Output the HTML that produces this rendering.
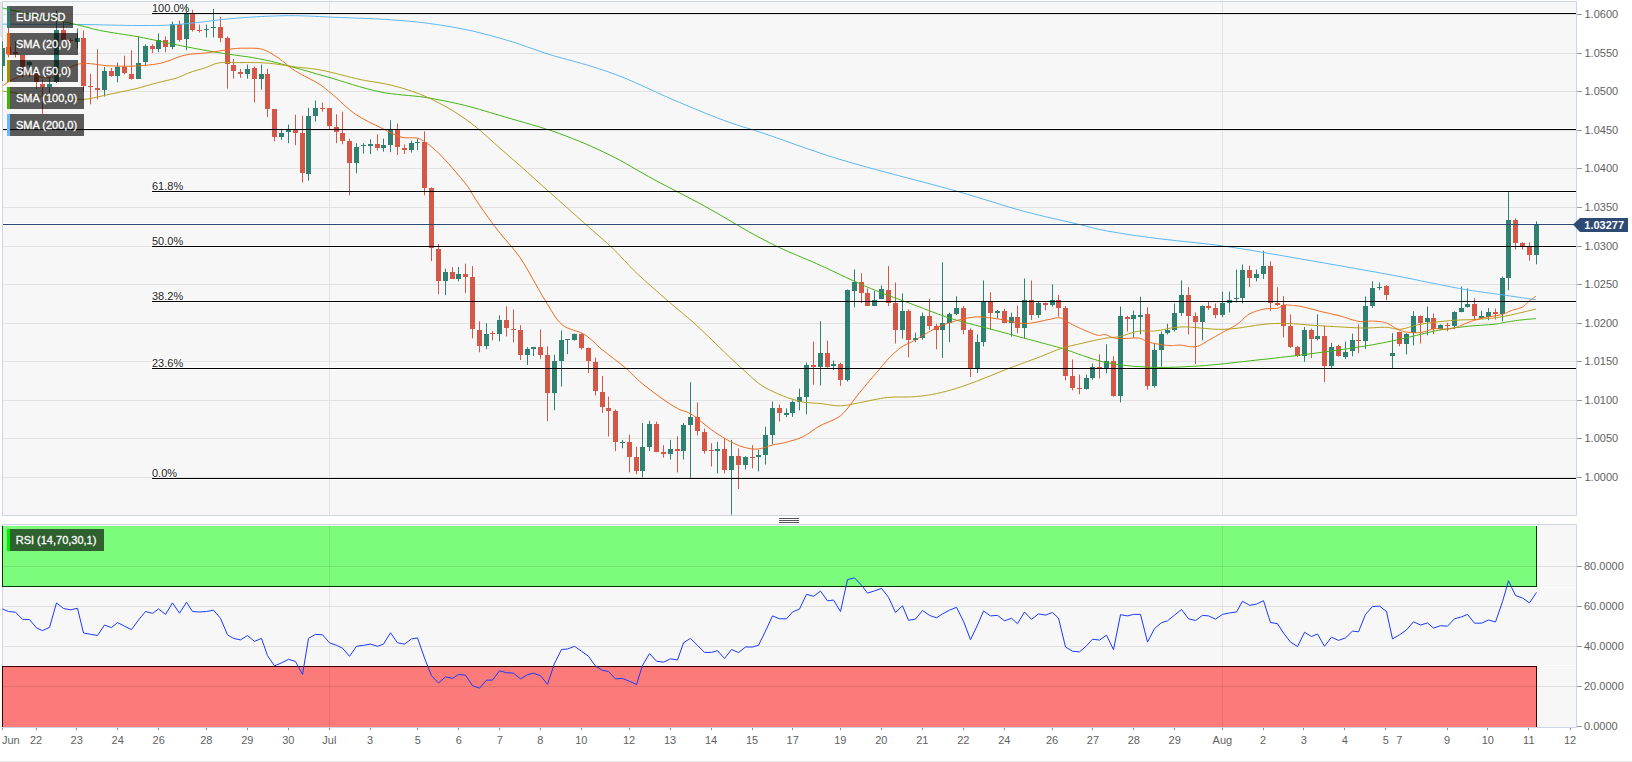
<!DOCTYPE html><html><head><meta charset="utf-8"><style>html,body{margin:0;padding:0;background:#fff;width:1632px;height:762px;overflow:hidden}svg{display:block}text{font-family:"Liberation Sans",sans-serif}</style></head><body>
<svg width="1632" height="762" viewBox="0 0 1632 762">
<defs><clipPath id="mc"><rect x="2" y="2" width="1574" height="513"/></clipPath><clipPath id="rc"><rect x="2" y="525" width="1574" height="202"/></clipPath></defs>
<rect x="2.5" y="1.5" width="1574" height="514" fill="#f7f7f7" stroke="#cdd4e6" stroke-width="1"/>
<rect x="0" y="2" width="2" height="35" fill="#e6e6e6"/>
<g clip-path="url(#mc)">
<rect x="3" y="128" width="1573" height="3" fill="#fff"/>
<rect x="3" y="223" width="1573" height="3" fill="#fff"/>
<rect x="152" y="12" width="1424" height="3" fill="#fff"/>
<rect x="152" y="190" width="1424" height="3" fill="#fff"/>
<rect x="152" y="245" width="1424" height="3" fill="#fff"/>
<rect x="152" y="300" width="1424" height="3" fill="#fff"/>
<rect x="152" y="367" width="1424" height="3" fill="#fff"/>
<rect x="152" y="477" width="1424" height="3" fill="#fff"/>
<line x1="3" y1="14.5" x2="1576" y2="14.5" stroke="#e2e2e2" stroke-width="1"/>
<line x1="3" y1="53.5" x2="1576" y2="53.5" stroke="#e2e2e2" stroke-width="1"/>
<line x1="3" y1="91.5" x2="1576" y2="91.5" stroke="#e2e2e2" stroke-width="1"/>
<line x1="3" y1="130.5" x2="1576" y2="130.5" stroke="#e2e2e2" stroke-width="1"/>
<line x1="3" y1="168.5" x2="1576" y2="168.5" stroke="#e2e2e2" stroke-width="1"/>
<line x1="3" y1="207.5" x2="1576" y2="207.5" stroke="#e2e2e2" stroke-width="1"/>
<line x1="3" y1="246.5" x2="1576" y2="246.5" stroke="#e2e2e2" stroke-width="1"/>
<line x1="3" y1="284.5" x2="1576" y2="284.5" stroke="#e2e2e2" stroke-width="1"/>
<line x1="3" y1="323.5" x2="1576" y2="323.5" stroke="#e2e2e2" stroke-width="1"/>
<line x1="3" y1="361.5" x2="1576" y2="361.5" stroke="#e2e2e2" stroke-width="1"/>
<line x1="3" y1="400.5" x2="1576" y2="400.5" stroke="#e2e2e2" stroke-width="1"/>
<line x1="3" y1="438.5" x2="1576" y2="438.5" stroke="#e2e2e2" stroke-width="1"/>
<line x1="3" y1="477.5" x2="1576" y2="477.5" stroke="#e2e2e2" stroke-width="1"/>
<line x1="329.5" y1="2" x2="329.5" y2="515" stroke="#e2e2e2" stroke-width="1"/>
<line x1="1222.5" y1="2" x2="1222.5" y2="515" stroke="#e2e2e2" stroke-width="1"/>
<text x="152" y="12" font-size="11" fill="#222" stroke="#fff" stroke-width="2" paint-order="stroke" stroke-linejoin="round">100.0%</text>
<text x="152" y="190" font-size="11" fill="#222" stroke="#fff" stroke-width="2" paint-order="stroke" stroke-linejoin="round">61.8%</text>
<text x="152" y="245" font-size="11" fill="#222" stroke="#fff" stroke-width="2" paint-order="stroke" stroke-linejoin="round">50.0%</text>
<text x="152" y="300" font-size="11" fill="#222" stroke="#fff" stroke-width="2" paint-order="stroke" stroke-linejoin="round">38.2%</text>
<text x="152" y="367" font-size="11" fill="#222" stroke="#fff" stroke-width="2" paint-order="stroke" stroke-linejoin="round">23.6%</text>
<text x="152" y="477" font-size="11" fill="#222" stroke="#fff" stroke-width="2" paint-order="stroke" stroke-linejoin="round">0.0%</text>
</g>
<line x1="1577" y1="14.5" x2="1582" y2="14.5" stroke="#9a9a9a" stroke-width="1"/>
<text x="1584.5" y="18.0" font-size="11" fill="#5f5f5f">1.0600</text>
<line x1="1577" y1="53.5" x2="1582" y2="53.5" stroke="#9a9a9a" stroke-width="1"/>
<text x="1584.5" y="57.0" font-size="11" fill="#5f5f5f">1.0550</text>
<line x1="1577" y1="91.5" x2="1582" y2="91.5" stroke="#9a9a9a" stroke-width="1"/>
<text x="1584.5" y="95.0" font-size="11" fill="#5f5f5f">1.0500</text>
<line x1="1577" y1="130.5" x2="1582" y2="130.5" stroke="#9a9a9a" stroke-width="1"/>
<text x="1584.5" y="134.0" font-size="11" fill="#5f5f5f">1.0450</text>
<line x1="1577" y1="168.5" x2="1582" y2="168.5" stroke="#9a9a9a" stroke-width="1"/>
<text x="1584.5" y="172.0" font-size="11" fill="#5f5f5f">1.0400</text>
<line x1="1577" y1="207.5" x2="1582" y2="207.5" stroke="#9a9a9a" stroke-width="1"/>
<text x="1584.5" y="211.0" font-size="11" fill="#5f5f5f">1.0350</text>
<line x1="1577" y1="246.5" x2="1582" y2="246.5" stroke="#9a9a9a" stroke-width="1"/>
<text x="1584.5" y="250.0" font-size="11" fill="#5f5f5f">1.0300</text>
<line x1="1577" y1="284.5" x2="1582" y2="284.5" stroke="#9a9a9a" stroke-width="1"/>
<text x="1584.5" y="288.0" font-size="11" fill="#5f5f5f">1.0250</text>
<line x1="1577" y1="323.5" x2="1582" y2="323.5" stroke="#9a9a9a" stroke-width="1"/>
<text x="1584.5" y="327.0" font-size="11" fill="#5f5f5f">1.0200</text>
<line x1="1577" y1="361.5" x2="1582" y2="361.5" stroke="#9a9a9a" stroke-width="1"/>
<text x="1584.5" y="365.0" font-size="11" fill="#5f5f5f">1.0150</text>
<line x1="1577" y1="400.5" x2="1582" y2="400.5" stroke="#9a9a9a" stroke-width="1"/>
<text x="1584.5" y="404.0" font-size="11" fill="#5f5f5f">1.0100</text>
<line x1="1577" y1="438.5" x2="1582" y2="438.5" stroke="#9a9a9a" stroke-width="1"/>
<text x="1584.5" y="442.0" font-size="11" fill="#5f5f5f">1.0050</text>
<line x1="1577" y1="477.5" x2="1582" y2="477.5" stroke="#9a9a9a" stroke-width="1"/>
<text x="1584.5" y="481.0" font-size="11" fill="#5f5f5f">1.0000</text>
<g clip-path="url(#mc)">
<rect x="2" y="41.6" width="1" height="39.4" fill="#2f8070"/>
<rect x="0" y="48" width="5" height="18" fill="#2f8070"/>
<rect x="8" y="28.0" width="1" height="29.4" fill="#d45848"/>
<rect x="6" y="47" width="5" height="7" fill="#d45848"/>
<rect x="15" y="41.0" width="1" height="16.5" fill="#d45848"/>
<rect x="13" y="52" width="5" height="2" fill="#d45848"/>
<rect x="22" y="55.0" width="1" height="22.5" fill="#d45848"/>
<rect x="20" y="55" width="5" height="12" fill="#d45848"/>
<rect x="29" y="61.0" width="1" height="16.0" fill="#2f8070"/>
<rect x="27" y="62" width="5" height="3" fill="#2f8070"/>
<rect x="36" y="70.0" width="1" height="19.0" fill="#d45848"/>
<rect x="34" y="74" width="5" height="8" fill="#d45848"/>
<rect x="42" y="79.7" width="1" height="34.3" fill="#d45848"/>
<rect x="40" y="84" width="5" height="3" fill="#d45848"/>
<rect x="49" y="77.8" width="1" height="15.7" fill="#2f8070"/>
<rect x="47" y="84" width="5" height="3" fill="#2f8070"/>
<rect x="56" y="10.6" width="1" height="72.4" fill="#2f8070"/>
<rect x="54" y="30" width="5" height="52" fill="#2f8070"/>
<rect x="63" y="22.0" width="1" height="20.0" fill="#d45848"/>
<rect x="61" y="30" width="5" height="10" fill="#d45848"/>
<rect x="70" y="38.0" width="1" height="5.0" fill="#d45848"/>
<rect x="68" y="40" width="5" height="1" fill="#d45848"/>
<rect x="77" y="28.5" width="1" height="20.0" fill="#2f8070"/>
<rect x="75" y="38" width="5" height="4" fill="#2f8070"/>
<rect x="83" y="30.5" width="1" height="61.0" fill="#d45848"/>
<rect x="81" y="38" width="5" height="48" fill="#d45848"/>
<rect x="90" y="73.8" width="1" height="30.5" fill="#d45848"/>
<rect x="88" y="86" width="5" height="1" fill="#d45848"/>
<rect x="97" y="49.2" width="1" height="50.2" fill="#d45848"/>
<rect x="95" y="88" width="5" height="2" fill="#d45848"/>
<rect x="104" y="66.9" width="1" height="29.6" fill="#2f8070"/>
<rect x="102" y="71" width="5" height="19" fill="#2f8070"/>
<rect x="111" y="68.0" width="1" height="8.8" fill="#d45848"/>
<rect x="109" y="71" width="5" height="5" fill="#d45848"/>
<rect x="117" y="62.6" width="1" height="19.7" fill="#2f8070"/>
<rect x="115" y="67" width="5" height="9" fill="#2f8070"/>
<rect x="124" y="55.7" width="1" height="18.7" fill="#d45848"/>
<rect x="122" y="67" width="5" height="6" fill="#d45848"/>
<rect x="131" y="50.2" width="1" height="29.5" fill="#d45848"/>
<rect x="129" y="74" width="5" height="5" fill="#d45848"/>
<rect x="138" y="36.4" width="1" height="42.3" fill="#2f8070"/>
<rect x="136" y="63" width="5" height="16" fill="#2f8070"/>
<rect x="145" y="44.3" width="1" height="20.7" fill="#2f8070"/>
<rect x="143" y="46" width="5" height="16" fill="#2f8070"/>
<rect x="152" y="44.3" width="1" height="8.8" fill="#d45848"/>
<rect x="150" y="46" width="5" height="3" fill="#d45848"/>
<rect x="158" y="33.5" width="1" height="18.7" fill="#2f8070"/>
<rect x="156" y="40" width="5" height="9" fill="#2f8070"/>
<rect x="165" y="36.4" width="1" height="15.8" fill="#d45848"/>
<rect x="163" y="40" width="5" height="7" fill="#d45848"/>
<rect x="172" y="21.7" width="1" height="27.5" fill="#2f8070"/>
<rect x="170" y="24" width="5" height="23" fill="#2f8070"/>
<rect x="179" y="20.7" width="1" height="21.0" fill="#d45848"/>
<rect x="177" y="24" width="5" height="16" fill="#d45848"/>
<rect x="186" y="3.9" width="1" height="46.3" fill="#2f8070"/>
<rect x="184" y="13" width="5" height="26" fill="#2f8070"/>
<rect x="192" y="9.8" width="1" height="21.7" fill="#d45848"/>
<rect x="190" y="13" width="5" height="17" fill="#d45848"/>
<rect x="199" y="24.6" width="1" height="7.9" fill="#d45848"/>
<rect x="197" y="30" width="5" height="1" fill="#d45848"/>
<rect x="206" y="24.6" width="1" height="12.8" fill="#2f8070"/>
<rect x="204" y="29" width="5" height="1" fill="#2f8070"/>
<rect x="213" y="8.9" width="1" height="28.5" fill="#2f8070"/>
<rect x="211" y="27" width="5" height="1" fill="#2f8070"/>
<rect x="220" y="16.7" width="1" height="25.6" fill="#d45848"/>
<rect x="218" y="27" width="5" height="11" fill="#d45848"/>
<rect x="227" y="36.4" width="1" height="52.2" fill="#d45848"/>
<rect x="225" y="38" width="5" height="26" fill="#d45848"/>
<rect x="233" y="59.0" width="1" height="19.7" fill="#d45848"/>
<rect x="231" y="65" width="5" height="6" fill="#d45848"/>
<rect x="240" y="68.9" width="1" height="8.9" fill="#d45848"/>
<rect x="238" y="72" width="5" height="2" fill="#d45848"/>
<rect x="247" y="64.6" width="1" height="14.1" fill="#2f8070"/>
<rect x="245" y="69" width="5" height="5" fill="#2f8070"/>
<rect x="254" y="66.5" width="1" height="35.9" fill="#d45848"/>
<rect x="252" y="68" width="5" height="11" fill="#d45848"/>
<rect x="261" y="64.6" width="1" height="25.0" fill="#2f8070"/>
<rect x="259" y="74" width="5" height="5" fill="#2f8070"/>
<rect x="267" y="68.9" width="1" height="48.2" fill="#d45848"/>
<rect x="265" y="74" width="5" height="35" fill="#d45848"/>
<rect x="274" y="109.3" width="1" height="32.0" fill="#d45848"/>
<rect x="272" y="109" width="5" height="28" fill="#d45848"/>
<rect x="281" y="130.0" width="1" height="9.8" fill="#2f8070"/>
<rect x="279" y="133" width="5" height="4" fill="#2f8070"/>
<rect x="288" y="124.5" width="1" height="18.7" fill="#2f8070"/>
<rect x="286" y="129" width="5" height="3" fill="#2f8070"/>
<rect x="295" y="114.7" width="1" height="30.5" fill="#d45848"/>
<rect x="293" y="130" width="5" height="3" fill="#d45848"/>
<rect x="302" y="115.7" width="1" height="66.9" fill="#d45848"/>
<rect x="300" y="133" width="5" height="40" fill="#d45848"/>
<rect x="308" y="107.8" width="1" height="72.8" fill="#2f8070"/>
<rect x="306" y="116" width="5" height="58" fill="#2f8070"/>
<rect x="315" y="100.5" width="1" height="21.1" fill="#2f8070"/>
<rect x="313" y="108" width="5" height="8" fill="#2f8070"/>
<rect x="322" y="102.5" width="1" height="9.2" fill="#d45848"/>
<rect x="320" y="108" width="5" height="1" fill="#d45848"/>
<rect x="329" y="107.8" width="1" height="21.6" fill="#d45848"/>
<rect x="327" y="108" width="5" height="18" fill="#d45848"/>
<rect x="336" y="114.3" width="1" height="28.9" fill="#d45848"/>
<rect x="334" y="127" width="5" height="5" fill="#d45848"/>
<rect x="342" y="111.7" width="1" height="32.5" fill="#d45848"/>
<rect x="340" y="133" width="5" height="8" fill="#d45848"/>
<rect x="349" y="138.7" width="1" height="56.7" fill="#d45848"/>
<rect x="347" y="141" width="5" height="22" fill="#d45848"/>
<rect x="356" y="143.2" width="1" height="30.1" fill="#2f8070"/>
<rect x="354" y="147" width="5" height="16" fill="#2f8070"/>
<rect x="363" y="143.2" width="1" height="10.5" fill="#2f8070"/>
<rect x="361" y="145" width="5" height="1" fill="#2f8070"/>
<rect x="370" y="139.3" width="1" height="14.8" fill="#2f8070"/>
<rect x="368" y="144" width="5" height="2" fill="#2f8070"/>
<rect x="377" y="134.4" width="1" height="16.1" fill="#d45848"/>
<rect x="375" y="144" width="5" height="4" fill="#d45848"/>
<rect x="383" y="138.7" width="1" height="13.0" fill="#2f8070"/>
<rect x="381" y="145" width="5" height="3" fill="#2f8070"/>
<rect x="390" y="120.2" width="1" height="31.9" fill="#2f8070"/>
<rect x="388" y="129" width="5" height="16" fill="#2f8070"/>
<rect x="397" y="123.5" width="1" height="31.5" fill="#d45848"/>
<rect x="395" y="129" width="5" height="18" fill="#d45848"/>
<rect x="404" y="144.6" width="1" height="9.4" fill="#d45848"/>
<rect x="402" y="148" width="5" height="2" fill="#d45848"/>
<rect x="411" y="140.7" width="1" height="11.8" fill="#2f8070"/>
<rect x="409" y="143" width="5" height="7" fill="#2f8070"/>
<rect x="417" y="138.7" width="1" height="11.4" fill="#2f8070"/>
<rect x="415" y="142" width="5" height="1" fill="#2f8070"/>
<rect x="424" y="131.4" width="1" height="64.0" fill="#d45848"/>
<rect x="422" y="142" width="5" height="46" fill="#d45848"/>
<rect x="431" y="187.5" width="1" height="73.6" fill="#d45848"/>
<rect x="429" y="188" width="5" height="60" fill="#d45848"/>
<rect x="438" y="244.0" width="1" height="50.2" fill="#d45848"/>
<rect x="436" y="249" width="5" height="32" fill="#d45848"/>
<rect x="445" y="268.6" width="1" height="26.6" fill="#2f8070"/>
<rect x="443" y="272" width="5" height="9" fill="#2f8070"/>
<rect x="452" y="267.0" width="1" height="11.8" fill="#d45848"/>
<rect x="450" y="272" width="5" height="7" fill="#d45848"/>
<rect x="458" y="267.0" width="1" height="14.4" fill="#2f8070"/>
<rect x="456" y="274" width="5" height="5" fill="#2f8070"/>
<rect x="465" y="263.7" width="1" height="29.5" fill="#d45848"/>
<rect x="463" y="274" width="5" height="3" fill="#d45848"/>
<rect x="472" y="266.0" width="1" height="72.4" fill="#d45848"/>
<rect x="470" y="277" width="5" height="52" fill="#d45848"/>
<rect x="479" y="321.3" width="1" height="30.9" fill="#d45848"/>
<rect x="477" y="330" width="5" height="16" fill="#d45848"/>
<rect x="486" y="323.2" width="1" height="26.0" fill="#2f8070"/>
<rect x="484" y="334" width="5" height="12" fill="#2f8070"/>
<rect x="492" y="331.1" width="1" height="9.3" fill="#d45848"/>
<rect x="490" y="333" width="5" height="1" fill="#d45848"/>
<rect x="499" y="315.4" width="1" height="25.9" fill="#2f8070"/>
<rect x="497" y="320" width="5" height="14" fill="#2f8070"/>
<rect x="506" y="306.3" width="1" height="30.1" fill="#d45848"/>
<rect x="504" y="320" width="5" height="8" fill="#d45848"/>
<rect x="513" y="309.4" width="1" height="32.9" fill="#d45848"/>
<rect x="511" y="329" width="5" height="1" fill="#d45848"/>
<rect x="520" y="325.2" width="1" height="34.8" fill="#d45848"/>
<rect x="518" y="330" width="5" height="25" fill="#d45848"/>
<rect x="527" y="347.2" width="1" height="17.8" fill="#2f8070"/>
<rect x="525" y="349" width="5" height="6" fill="#2f8070"/>
<rect x="533" y="346.9" width="1" height="9.2" fill="#2f8070"/>
<rect x="531" y="347" width="5" height="2" fill="#2f8070"/>
<rect x="540" y="329.5" width="1" height="29.2" fill="#d45848"/>
<rect x="538" y="347" width="5" height="8" fill="#d45848"/>
<rect x="547" y="346.3" width="1" height="74.8" fill="#d45848"/>
<rect x="545" y="355" width="5" height="38" fill="#d45848"/>
<rect x="554" y="354.7" width="1" height="55.5" fill="#2f8070"/>
<rect x="552" y="361" width="5" height="32" fill="#2f8070"/>
<rect x="561" y="330.5" width="1" height="56.1" fill="#2f8070"/>
<rect x="559" y="340" width="5" height="21" fill="#2f8070"/>
<rect x="567" y="339.0" width="1" height="15.1" fill="#2f8070"/>
<rect x="565" y="339" width="5" height="1" fill="#2f8070"/>
<rect x="574" y="333.5" width="1" height="7.0" fill="#2f8070"/>
<rect x="572" y="334" width="5" height="6" fill="#2f8070"/>
<rect x="581" y="333.5" width="1" height="16.1" fill="#d45848"/>
<rect x="579" y="334" width="5" height="14" fill="#d45848"/>
<rect x="588" y="347.6" width="1" height="25.6" fill="#d45848"/>
<rect x="586" y="348" width="5" height="13" fill="#d45848"/>
<rect x="595" y="357.5" width="1" height="38.0" fill="#d45848"/>
<rect x="593" y="362" width="5" height="29" fill="#d45848"/>
<rect x="602" y="375.9" width="1" height="37.0" fill="#d45848"/>
<rect x="600" y="392" width="5" height="15" fill="#d45848"/>
<rect x="608" y="396.6" width="1" height="39.9" fill="#d45848"/>
<rect x="606" y="408" width="5" height="3" fill="#d45848"/>
<rect x="615" y="409.4" width="1" height="41.7" fill="#d45848"/>
<rect x="613" y="411" width="5" height="31" fill="#d45848"/>
<rect x="622" y="439.9" width="1" height="8.4" fill="#2f8070"/>
<rect x="620" y="442" width="5" height="1" fill="#2f8070"/>
<rect x="629" y="434.6" width="1" height="37.8" fill="#d45848"/>
<rect x="627" y="442" width="5" height="15" fill="#d45848"/>
<rect x="636" y="446.8" width="1" height="27.5" fill="#d45848"/>
<rect x="634" y="457" width="5" height="14" fill="#d45848"/>
<rect x="642" y="423.1" width="1" height="54.2" fill="#2f8070"/>
<rect x="640" y="447" width="5" height="24" fill="#2f8070"/>
<rect x="649" y="420.8" width="1" height="30.3" fill="#2f8070"/>
<rect x="647" y="424" width="5" height="23" fill="#2f8070"/>
<rect x="656" y="421.6" width="1" height="30.7" fill="#d45848"/>
<rect x="654" y="424" width="5" height="28" fill="#d45848"/>
<rect x="663" y="445.2" width="1" height="12.4" fill="#d45848"/>
<rect x="661" y="452" width="5" height="2" fill="#d45848"/>
<rect x="670" y="439.9" width="1" height="19.7" fill="#2f8070"/>
<rect x="668" y="449" width="5" height="5" fill="#2f8070"/>
<rect x="677" y="436.5" width="1" height="35.9" fill="#d45848"/>
<rect x="675" y="449" width="5" height="2" fill="#d45848"/>
<rect x="683" y="423.1" width="1" height="36.5" fill="#2f8070"/>
<rect x="681" y="425" width="5" height="26" fill="#2f8070"/>
<rect x="690" y="382.2" width="1" height="95.7" fill="#2f8070"/>
<rect x="688" y="417" width="5" height="8" fill="#2f8070"/>
<rect x="697" y="402.5" width="1" height="32.9" fill="#d45848"/>
<rect x="695" y="417" width="5" height="14" fill="#d45848"/>
<rect x="704" y="428.7" width="1" height="25.0" fill="#d45848"/>
<rect x="702" y="432" width="5" height="19" fill="#d45848"/>
<rect x="711" y="443.2" width="1" height="23.3" fill="#d45848"/>
<rect x="709" y="450" width="5" height="1" fill="#d45848"/>
<rect x="717" y="441.9" width="1" height="31.4" fill="#2f8070"/>
<rect x="715" y="449" width="5" height="2" fill="#2f8070"/>
<rect x="724" y="438.5" width="1" height="34.8" fill="#d45848"/>
<rect x="722" y="449" width="5" height="21" fill="#d45848"/>
<rect x="731" y="439.9" width="1" height="74.8" fill="#2f8070"/>
<rect x="729" y="456" width="5" height="14" fill="#2f8070"/>
<rect x="738" y="448.3" width="1" height="40.8" fill="#d45848"/>
<rect x="736" y="456" width="5" height="9" fill="#d45848"/>
<rect x="745" y="456.2" width="1" height="13.2" fill="#2f8070"/>
<rect x="743" y="457" width="5" height="8" fill="#2f8070"/>
<rect x="752" y="445.2" width="1" height="23.2" fill="#d45848"/>
<rect x="750" y="457" width="5" height="1" fill="#d45848"/>
<rect x="758" y="449.7" width="1" height="21.7" fill="#2f8070"/>
<rect x="756" y="455" width="5" height="2" fill="#2f8070"/>
<rect x="765" y="426.7" width="1" height="37.8" fill="#2f8070"/>
<rect x="763" y="435" width="5" height="20" fill="#2f8070"/>
<rect x="772" y="401.5" width="1" height="42.9" fill="#2f8070"/>
<rect x="770" y="408" width="5" height="27" fill="#2f8070"/>
<rect x="779" y="404.4" width="1" height="17.2" fill="#d45848"/>
<rect x="777" y="408" width="5" height="5" fill="#d45848"/>
<rect x="786" y="408.4" width="1" height="8.8" fill="#2f8070"/>
<rect x="784" y="413" width="5" height="2" fill="#2f8070"/>
<rect x="792" y="400.5" width="1" height="16.4" fill="#2f8070"/>
<rect x="790" y="402" width="5" height="11" fill="#2f8070"/>
<rect x="799" y="388.7" width="1" height="21.7" fill="#2f8070"/>
<rect x="797" y="397" width="5" height="5" fill="#2f8070"/>
<rect x="806" y="362.6" width="1" height="51.7" fill="#2f8070"/>
<rect x="804" y="365" width="5" height="32" fill="#2f8070"/>
<rect x="813" y="341.5" width="1" height="43.3" fill="#d45848"/>
<rect x="811" y="365" width="5" height="2" fill="#d45848"/>
<rect x="820" y="321.3" width="1" height="64.1" fill="#2f8070"/>
<rect x="818" y="353" width="5" height="14" fill="#2f8070"/>
<rect x="827" y="340.6" width="1" height="27.1" fill="#d45848"/>
<rect x="825" y="353" width="5" height="14" fill="#d45848"/>
<rect x="833" y="360.6" width="1" height="9.5" fill="#2f8070"/>
<rect x="831" y="364" width="5" height="2" fill="#2f8070"/>
<rect x="840" y="362.6" width="1" height="23.2" fill="#d45848"/>
<rect x="838" y="364" width="5" height="16" fill="#d45848"/>
<rect x="847" y="289.4" width="1" height="92.1" fill="#2f8070"/>
<rect x="845" y="290" width="5" height="90" fill="#2f8070"/>
<rect x="854" y="269.3" width="1" height="38.2" fill="#2f8070"/>
<rect x="852" y="282" width="5" height="9" fill="#2f8070"/>
<rect x="861" y="273.2" width="1" height="29.9" fill="#d45848"/>
<rect x="859" y="282" width="5" height="11" fill="#d45848"/>
<rect x="867" y="288.4" width="1" height="17.7" fill="#d45848"/>
<rect x="865" y="293" width="5" height="13" fill="#d45848"/>
<rect x="874" y="290.9" width="1" height="15.2" fill="#2f8070"/>
<rect x="872" y="300" width="5" height="6" fill="#2f8070"/>
<rect x="881" y="285.4" width="1" height="13.8" fill="#2f8070"/>
<rect x="879" y="289" width="5" height="10" fill="#2f8070"/>
<rect x="888" y="266.1" width="1" height="40.0" fill="#d45848"/>
<rect x="886" y="290" width="5" height="13" fill="#d45848"/>
<rect x="895" y="282.5" width="1" height="61.0" fill="#d45848"/>
<rect x="893" y="303" width="5" height="27" fill="#d45848"/>
<rect x="902" y="293.3" width="1" height="45.3" fill="#2f8070"/>
<rect x="900" y="311" width="5" height="19" fill="#2f8070"/>
<rect x="908" y="309.4" width="1" height="47.9" fill="#d45848"/>
<rect x="906" y="311" width="5" height="29" fill="#d45848"/>
<rect x="915" y="332.7" width="1" height="9.4" fill="#2f8070"/>
<rect x="913" y="338" width="5" height="2" fill="#2f8070"/>
<rect x="922" y="312.6" width="1" height="27.0" fill="#2f8070"/>
<rect x="920" y="316" width="5" height="22" fill="#2f8070"/>
<rect x="929" y="299.2" width="1" height="30.5" fill="#d45848"/>
<rect x="927" y="316" width="5" height="10" fill="#d45848"/>
<rect x="936" y="323.8" width="1" height="25.6" fill="#d45848"/>
<rect x="934" y="326" width="5" height="4" fill="#d45848"/>
<rect x="942" y="262.2" width="1" height="95.7" fill="#2f8070"/>
<rect x="940" y="323" width="5" height="7" fill="#2f8070"/>
<rect x="949" y="312.6" width="1" height="29.5" fill="#2f8070"/>
<rect x="947" y="314" width="5" height="9" fill="#2f8070"/>
<rect x="956" y="296.3" width="1" height="18.7" fill="#2f8070"/>
<rect x="954" y="308" width="5" height="6" fill="#2f8070"/>
<rect x="963" y="306.1" width="1" height="28.2" fill="#d45848"/>
<rect x="961" y="308" width="5" height="22" fill="#d45848"/>
<rect x="970" y="328.3" width="1" height="48.7" fill="#d45848"/>
<rect x="968" y="330" width="5" height="39" fill="#d45848"/>
<rect x="977" y="334.3" width="1" height="38.7" fill="#2f8070"/>
<rect x="975" y="342" width="5" height="27" fill="#2f8070"/>
<rect x="983" y="280.5" width="1" height="66.0" fill="#2f8070"/>
<rect x="981" y="302" width="5" height="40" fill="#2f8070"/>
<rect x="990" y="292.3" width="1" height="37.4" fill="#d45848"/>
<rect x="988" y="302" width="5" height="11" fill="#d45848"/>
<rect x="997" y="310.0" width="1" height="8.5" fill="#2f8070"/>
<rect x="995" y="311" width="5" height="2" fill="#2f8070"/>
<rect x="1004" y="308.7" width="1" height="14.5" fill="#d45848"/>
<rect x="1002" y="311" width="5" height="12" fill="#d45848"/>
<rect x="1011" y="312.6" width="1" height="24.0" fill="#2f8070"/>
<rect x="1009" y="317" width="5" height="6" fill="#2f8070"/>
<rect x="1017" y="305.5" width="1" height="27.6" fill="#d45848"/>
<rect x="1015" y="317" width="5" height="11" fill="#d45848"/>
<rect x="1024" y="278.5" width="1" height="60.1" fill="#2f8070"/>
<rect x="1022" y="300" width="5" height="28" fill="#2f8070"/>
<rect x="1031" y="280.5" width="1" height="39.4" fill="#d45848"/>
<rect x="1029" y="300" width="5" height="15" fill="#d45848"/>
<rect x="1038" y="301.6" width="1" height="16.3" fill="#2f8070"/>
<rect x="1036" y="303" width="5" height="12" fill="#2f8070"/>
<rect x="1045" y="302.4" width="1" height="7.9" fill="#d45848"/>
<rect x="1043" y="303" width="5" height="2" fill="#d45848"/>
<rect x="1052" y="284.3" width="1" height="22.3" fill="#2f8070"/>
<rect x="1050" y="300" width="5" height="5" fill="#2f8070"/>
<rect x="1058" y="295.2" width="1" height="21.4" fill="#d45848"/>
<rect x="1056" y="300" width="5" height="8" fill="#d45848"/>
<rect x="1065" y="306.0" width="1" height="74.4" fill="#d45848"/>
<rect x="1063" y="308" width="5" height="68" fill="#d45848"/>
<rect x="1072" y="359.4" width="1" height="31.0" fill="#d45848"/>
<rect x="1070" y="376" width="5" height="12" fill="#d45848"/>
<rect x="1079" y="374.6" width="1" height="19.7" fill="#d45848"/>
<rect x="1077" y="388" width="5" height="1" fill="#d45848"/>
<rect x="1086" y="374.6" width="1" height="15.0" fill="#2f8070"/>
<rect x="1084" y="378" width="5" height="11" fill="#2f8070"/>
<rect x="1092" y="363.6" width="1" height="16.2" fill="#2f8070"/>
<rect x="1090" y="367" width="5" height="11" fill="#2f8070"/>
<rect x="1099" y="354.4" width="1" height="24.1" fill="#d45848"/>
<rect x="1097" y="367" width="5" height="2" fill="#d45848"/>
<rect x="1106" y="344.2" width="1" height="29.1" fill="#2f8070"/>
<rect x="1104" y="361" width="5" height="8" fill="#2f8070"/>
<rect x="1113" y="356.2" width="1" height="40.5" fill="#d45848"/>
<rect x="1111" y="361" width="5" height="35" fill="#d45848"/>
<rect x="1120" y="306.5" width="1" height="95.9" fill="#2f8070"/>
<rect x="1118" y="316" width="5" height="80" fill="#2f8070"/>
<rect x="1127" y="315.8" width="1" height="15.7" fill="#d45848"/>
<rect x="1125" y="317" width="5" height="2" fill="#d45848"/>
<rect x="1133" y="310.5" width="1" height="27.4" fill="#2f8070"/>
<rect x="1131" y="315" width="5" height="4" fill="#2f8070"/>
<rect x="1140" y="296.7" width="1" height="37.7" fill="#2f8070"/>
<rect x="1138" y="315" width="5" height="2" fill="#2f8070"/>
<rect x="1147" y="307.3" width="1" height="82.3" fill="#d45848"/>
<rect x="1145" y="314" width="5" height="72" fill="#d45848"/>
<rect x="1154" y="343.1" width="1" height="44.4" fill="#2f8070"/>
<rect x="1152" y="350" width="5" height="36" fill="#2f8070"/>
<rect x="1161" y="331.5" width="1" height="35.2" fill="#2f8070"/>
<rect x="1159" y="334" width="5" height="16" fill="#2f8070"/>
<rect x="1167" y="323.7" width="1" height="10.8" fill="#2f8070"/>
<rect x="1165" y="330" width="5" height="3" fill="#2f8070"/>
<rect x="1174" y="303.4" width="1" height="28.1" fill="#2f8070"/>
<rect x="1172" y="313" width="5" height="17" fill="#2f8070"/>
<rect x="1181" y="280.4" width="1" height="35.4" fill="#2f8070"/>
<rect x="1179" y="295" width="5" height="18" fill="#2f8070"/>
<rect x="1188" y="287.2" width="1" height="47.2" fill="#d45848"/>
<rect x="1186" y="295" width="5" height="21" fill="#d45848"/>
<rect x="1195" y="312.4" width="1" height="51.7" fill="#d45848"/>
<rect x="1193" y="316" width="5" height="6" fill="#d45848"/>
<rect x="1202" y="305.4" width="1" height="35.0" fill="#2f8070"/>
<rect x="1200" y="306" width="5" height="16" fill="#2f8070"/>
<rect x="1208" y="302.0" width="1" height="7.9" fill="#d45848"/>
<rect x="1206" y="306" width="5" height="2" fill="#d45848"/>
<rect x="1215" y="303.4" width="1" height="14.9" fill="#d45848"/>
<rect x="1213" y="308" width="5" height="7" fill="#d45848"/>
<rect x="1222" y="291.6" width="1" height="25.6" fill="#2f8070"/>
<rect x="1220" y="303" width="5" height="12" fill="#2f8070"/>
<rect x="1229" y="291.6" width="1" height="20.8" fill="#2f8070"/>
<rect x="1227" y="300" width="5" height="3" fill="#2f8070"/>
<rect x="1236" y="269.5" width="1" height="33.1" fill="#2f8070"/>
<rect x="1234" y="298" width="5" height="1" fill="#2f8070"/>
<rect x="1242" y="264.6" width="1" height="38.8" fill="#2f8070"/>
<rect x="1240" y="270" width="5" height="28" fill="#2f8070"/>
<rect x="1249" y="265.6" width="1" height="21.6" fill="#d45848"/>
<rect x="1247" y="270" width="5" height="8" fill="#d45848"/>
<rect x="1256" y="269.5" width="1" height="11.8" fill="#2f8070"/>
<rect x="1254" y="274" width="5" height="4" fill="#2f8070"/>
<rect x="1263" y="250.8" width="1" height="28.2" fill="#2f8070"/>
<rect x="1261" y="266" width="5" height="8" fill="#2f8070"/>
<rect x="1270" y="261.3" width="1" height="49.6" fill="#d45848"/>
<rect x="1268" y="266" width="5" height="37" fill="#d45848"/>
<rect x="1277" y="287.2" width="1" height="18.7" fill="#d45848"/>
<rect x="1275" y="303" width="5" height="2" fill="#d45848"/>
<rect x="1283" y="296.1" width="1" height="41.3" fill="#d45848"/>
<rect x="1281" y="305" width="5" height="21" fill="#d45848"/>
<rect x="1290" y="314.4" width="1" height="33.5" fill="#d45848"/>
<rect x="1288" y="326" width="5" height="21" fill="#d45848"/>
<rect x="1297" y="345.9" width="1" height="11.2" fill="#d45848"/>
<rect x="1295" y="347" width="5" height="9" fill="#d45848"/>
<rect x="1304" y="327.0" width="1" height="34.7" fill="#2f8070"/>
<rect x="1302" y="330" width="5" height="26" fill="#2f8070"/>
<rect x="1311" y="328.6" width="1" height="29.5" fill="#d45848"/>
<rect x="1309" y="330" width="5" height="9" fill="#d45848"/>
<rect x="1317" y="314.4" width="1" height="26.0" fill="#2f8070"/>
<rect x="1315" y="336" width="5" height="3" fill="#2f8070"/>
<rect x="1324" y="325.6" width="1" height="56.5" fill="#d45848"/>
<rect x="1322" y="336" width="5" height="30" fill="#d45848"/>
<rect x="1331" y="342.8" width="1" height="26.1" fill="#2f8070"/>
<rect x="1329" y="347" width="5" height="19" fill="#2f8070"/>
<rect x="1338" y="344.7" width="1" height="11.8" fill="#d45848"/>
<rect x="1336" y="346" width="5" height="10" fill="#d45848"/>
<rect x="1345" y="341.5" width="1" height="17.6" fill="#2f8070"/>
<rect x="1343" y="352" width="5" height="5" fill="#2f8070"/>
<rect x="1352" y="333.6" width="1" height="22.7" fill="#2f8070"/>
<rect x="1350" y="340" width="5" height="11" fill="#2f8070"/>
<rect x="1358" y="324.3" width="1" height="28.9" fill="#d45848"/>
<rect x="1356" y="340" width="5" height="1" fill="#d45848"/>
<rect x="1365" y="296.5" width="1" height="52.5" fill="#2f8070"/>
<rect x="1363" y="306" width="5" height="35" fill="#2f8070"/>
<rect x="1372" y="281.3" width="1" height="26.7" fill="#2f8070"/>
<rect x="1370" y="288" width="5" height="18" fill="#2f8070"/>
<rect x="1379" y="282.4" width="1" height="7.8" fill="#2f8070"/>
<rect x="1377" y="287" width="5" height="1" fill="#2f8070"/>
<rect x="1386" y="285.2" width="1" height="15.0" fill="#d45848"/>
<rect x="1384" y="286" width="5" height="9" fill="#d45848"/>
<rect x="1392" y="333.2" width="1" height="35.1" fill="#2f8070"/>
<rect x="1390" y="353" width="5" height="3" fill="#2f8070"/>
<rect x="1399" y="331.7" width="1" height="14.6" fill="#d45848"/>
<rect x="1397" y="332" width="5" height="12" fill="#d45848"/>
<rect x="1406" y="333.2" width="1" height="21.3" fill="#2f8070"/>
<rect x="1404" y="334" width="5" height="10" fill="#2f8070"/>
<rect x="1413" y="311.2" width="1" height="34.2" fill="#2f8070"/>
<rect x="1411" y="316" width="5" height="17" fill="#2f8070"/>
<rect x="1420" y="315.4" width="1" height="28.1" fill="#d45848"/>
<rect x="1418" y="316" width="5" height="7" fill="#d45848"/>
<rect x="1427" y="306.5" width="1" height="28.8" fill="#2f8070"/>
<rect x="1425" y="318" width="5" height="4" fill="#2f8070"/>
<rect x="1433" y="313.5" width="1" height="20.5" fill="#d45848"/>
<rect x="1431" y="318" width="5" height="11" fill="#d45848"/>
<rect x="1440" y="324.3" width="1" height="5.0" fill="#2f8070"/>
<rect x="1438" y="325" width="5" height="4" fill="#2f8070"/>
<rect x="1447" y="322.7" width="1" height="8.5" fill="#d45848"/>
<rect x="1445" y="325" width="5" height="1" fill="#d45848"/>
<rect x="1454" y="311.2" width="1" height="17.8" fill="#2f8070"/>
<rect x="1452" y="312" width="5" height="14" fill="#2f8070"/>
<rect x="1461" y="286.5" width="1" height="25.8" fill="#2f8070"/>
<rect x="1459" y="308" width="5" height="4" fill="#2f8070"/>
<rect x="1467" y="288.3" width="1" height="19.3" fill="#2f8070"/>
<rect x="1465" y="304" width="5" height="3" fill="#2f8070"/>
<rect x="1474" y="298.1" width="1" height="22.1" fill="#d45848"/>
<rect x="1472" y="304" width="5" height="12" fill="#d45848"/>
<rect x="1481" y="310.7" width="1" height="7.9" fill="#2f8070"/>
<rect x="1479" y="316" width="5" height="2" fill="#2f8070"/>
<rect x="1488" y="308.0" width="1" height="12.2" fill="#2f8070"/>
<rect x="1486" y="312" width="5" height="5" fill="#2f8070"/>
<rect x="1495" y="308.5" width="1" height="11.0" fill="#d45848"/>
<rect x="1493" y="312" width="5" height="2" fill="#d45848"/>
<rect x="1502" y="276.5" width="1" height="44.9" fill="#2f8070"/>
<rect x="1500" y="278" width="5" height="36" fill="#2f8070"/>
<rect x="1508" y="192.2" width="1" height="97.9" fill="#2f8070"/>
<rect x="1506" y="220" width="5" height="58" fill="#2f8070"/>
<rect x="1515" y="218.4" width="1" height="31.2" fill="#d45848"/>
<rect x="1513" y="220" width="5" height="23" fill="#d45848"/>
<rect x="1522" y="242.3" width="1" height="7.3" fill="#d45848"/>
<rect x="1520" y="243" width="5" height="3" fill="#d45848"/>
<rect x="1529" y="242.3" width="1" height="18.4" fill="#d45848"/>
<rect x="1527" y="247" width="5" height="8" fill="#d45848"/>
<rect x="1536" y="221.3" width="1" height="43.0" fill="#2f8070"/>
<rect x="1534" y="224" width="5" height="31" fill="#2f8070"/>
<polyline points="2.5,24.2 12.3,24.2 22.1,24.3 32.0,24.3 41.9,24.3 51.7,24.3 61.4,24.4 70.8,24.4 80.0,24.5 87.9,24.6 95.7,24.7 103.5,24.9 111.2,25.1 118.6,25.2 125.7,25.4 132.5,25.5 138.8,25.5 143.0,25.5 146.9,25.5 150.6,25.5 154.1,25.5 157.6,25.5 161.1,25.4 164.6,25.3 168.2,25.1 171.9,24.9 175.6,24.6 179.2,24.3 182.9,24.0 186.6,23.6 190.3,23.3 193.9,22.9 197.6,22.5 201.3,22.1 204.9,21.7 208.5,21.2 212.1,20.7 215.7,20.3 219.4,19.8 223.2,19.4 227.1,19.0 231.8,18.6 236.6,18.2 241.6,17.8 246.7,17.4 251.8,17.1 256.8,16.8 261.6,16.5 266.3,16.3 270.1,16.1 273.8,16.0 277.4,15.9 281.0,15.8 284.6,15.7 288.2,15.7 291.9,15.7 295.7,15.7 300.3,15.8 305.0,15.9 309.9,16.1 314.8,16.3 319.8,16.6 324.8,16.8 329.8,17.1 334.9,17.3 340.4,17.5 346.0,17.7 351.6,17.9 357.3,18.1 363.0,18.3 368.7,18.5 374.4,18.8 380.0,19.1 385.5,19.4 391.1,19.8 396.6,20.2 402.1,20.6 407.6,21.1 413.1,21.6 418.6,22.2 424.1,22.8 429.6,23.5 435.2,24.3 440.7,25.1 446.2,26.0 451.7,26.9 457.2,27.9 462.7,29.0 468.2,30.1 473.8,31.3 479.4,32.7 485.0,34.1 490.6,35.6 496.2,37.1 501.7,38.7 507.1,40.3 512.4,41.9 517.2,43.4 521.8,45.0 526.4,46.6 531.0,48.2 535.5,49.8 540.0,51.4 544.5,52.9 549.1,54.4 553.7,55.8 558.3,57.1 562.9,58.3 567.6,59.6 572.2,60.8 576.8,62.1 581.4,63.4 585.9,64.7 590.2,66.0 594.3,67.3 598.4,68.6 602.5,69.9 606.7,71.3 610.9,72.8 615.3,74.4 620.0,76.2 626.7,78.9 633.8,82.0 641.3,85.3 649.0,88.8 656.7,92.4 664.4,95.9 672.0,99.3 679.3,102.4 685.8,105.1 692.3,107.8 698.8,110.5 705.2,113.1 711.4,115.6 717.5,118.0 723.4,120.2 729.1,122.3 733.2,123.7 737.0,125.0 740.6,126.1 744.1,127.2 747.7,128.3 751.5,129.4 755.5,130.7 760.0,132.1 767.9,134.8 776.4,137.8 785.6,141.0 795.3,144.5 805.4,148.1 815.8,151.6 826.4,155.2 837.2,158.6 851.3,162.8 866.4,167.0 882.2,171.3 898.4,175.6 914.5,179.8 930.1,183.9 944.9,187.9 958.5,191.7 967.8,194.4 976.6,197.1 985.1,199.7 993.3,202.2 1001.3,204.7 1009.1,207.1 1016.9,209.3 1024.7,211.5 1031.7,213.3 1038.8,215.1 1045.9,216.8 1052.8,218.4 1059.5,219.9 1066.0,221.4 1072.1,222.8 1077.7,224.1 1081.2,224.9 1084.3,225.7 1087.2,226.5 1090.0,227.2 1092.8,227.9 1095.7,228.6 1098.8,229.3 1102.2,230.0 1107.3,231.0 1112.7,231.9 1118.3,232.9 1124.2,233.8 1130.3,234.8 1136.6,235.7 1143.0,236.6 1149.6,237.5 1158.1,238.6 1167.1,239.6 1176.4,240.7 1185.9,241.7 1195.6,242.7 1205.3,243.8 1214.9,244.9 1224.4,246.2 1233.9,247.6 1243.5,249.1 1253.2,250.7 1262.8,252.3 1272.3,254.0 1281.7,255.6 1290.7,257.2 1299.3,258.7 1306.0,259.8 1312.5,261.0 1318.7,262.0 1324.8,263.1 1330.8,264.2 1336.9,265.2 1342.9,266.3 1349.1,267.4 1355.5,268.5 1362.0,269.7 1368.6,270.9 1375.2,272.0 1381.6,273.2 1388.0,274.4 1394.1,275.5 1400.0,276.6 1404.6,277.5 1409.0,278.4 1413.3,279.2 1417.4,280.1 1421.5,281.0 1425.7,281.8 1429.8,282.7 1434.0,283.5 1438.3,284.3 1442.5,285.2 1446.8,286.0 1451.1,286.9 1455.4,287.7 1459.6,288.5 1463.9,289.3 1468.2,290.0 1472.5,290.7 1476.8,291.3 1481.1,292.0 1485.4,292.5 1489.7,293.1 1493.9,293.7 1498.2,294.3 1502.5,294.9 1506.7,295.5 1510.9,296.1 1515.1,296.7 1519.3,297.3 1523.5,298.0 1527.6,298.6 1531.8,299.2 1536.0,299.8" fill="none" stroke="#5cb8f5" stroke-width="1.0" stroke-linejoin="round"/>
<polyline points="2.5,8.0 12.5,10.3 23.1,12.6 33.8,15.0 44.5,17.4 54.7,19.7 64.2,21.9 72.8,23.8 80.0,25.5 83.0,26.2 85.7,26.9 88.0,27.5 90.2,28.1 92.3,28.7 94.5,29.3 96.9,29.8 99.6,30.4 103.8,31.2 108.4,32.0 113.3,32.8 118.4,33.6 123.5,34.4 128.7,35.2 133.8,36.0 138.8,36.9 143.7,37.9 148.6,38.9 153.5,39.9 158.4,40.9 163.3,42.0 168.2,43.1 173.1,44.1 178.0,45.1 182.9,46.1 187.7,47.0 192.6,48.0 197.4,48.9 202.3,49.8 207.2,50.7 212.2,51.6 217.3,52.5 222.9,53.4 228.6,54.2 234.4,55.0 240.2,55.8 246.1,56.6 252.1,57.5 258.2,58.6 264.3,59.8 271.5,61.4 278.9,63.3 286.4,65.3 294.0,67.4 301.6,69.5 309.2,71.7 316.8,73.9 324.2,76.0 331.3,78.0 338.4,80.2 345.5,82.4 352.6,84.6 359.6,86.7 366.5,88.6 373.3,90.4 380.0,91.9 385.8,93.0 391.6,93.8 397.3,94.4 402.9,95.0 408.5,95.5 414.0,96.0 419.5,96.6 424.9,97.4 430.0,98.2 435.1,99.1 440.1,100.1 445.0,101.0 450.0,102.0 454.9,103.1 459.8,104.2 464.8,105.4 469.8,106.7 474.7,108.0 479.5,109.4 484.4,110.8 489.3,112.3 494.3,113.8 499.4,115.3 504.7,116.9 511.2,118.8 517.9,120.7 524.8,122.7 531.8,124.7 538.9,126.8 545.9,129.0 552.9,131.2 559.6,133.6 566.0,136.0 572.4,138.5 578.7,141.0 585.0,143.6 591.2,146.3 597.3,149.1 603.4,151.9 609.4,154.8 615.2,157.7 620.8,160.7 626.4,163.8 631.9,167.0 637.4,170.2 643.0,173.4 648.6,176.6 654.3,179.7 660.4,183.0 666.6,186.2 672.8,189.4 679.1,192.7 685.4,195.9 691.7,199.2 698.0,202.5 704.2,205.9 710.6,209.5 717.1,213.2 723.7,217.0 730.2,220.9 736.6,224.6 742.8,228.2 748.7,231.6 754.1,234.6 757.6,236.5 760.8,238.2 763.9,239.8 766.9,241.4 769.8,242.9 772.8,244.4 775.9,245.9 779.3,247.5 783.6,249.5 788.1,251.5 792.8,253.5 797.5,255.5 802.3,257.5 807.2,259.6 812.0,261.6 816.7,263.7 821.5,265.9 826.3,268.1 831.2,270.4 836.1,272.7 840.9,275.0 845.5,277.2 850.0,279.2 854.1,281.1 856.9,282.4 859.4,283.5 861.8,284.6 864.2,285.7 866.5,286.7 869.0,287.7 871.6,288.8 874.4,290.0 878.7,291.7 883.4,293.6 888.4,295.4 893.6,297.4 898.8,299.3 904.1,301.2 909.3,303.1 914.3,305.0 919.0,306.8 923.7,308.6 928.4,310.4 933.0,312.1 937.7,313.9 942.3,315.5 947.0,317.2 951.7,318.7 956.3,320.1 960.9,321.4 965.4,322.6 970.0,323.8 974.6,325.0 979.3,326.2 984.1,327.4 989.1,328.7 995.2,330.3 1001.8,332.1 1008.5,333.9 1015.4,335.8 1022.1,337.6 1028.5,339.3 1034.6,340.9 1040.0,342.4 1043.2,343.3 1046.1,344.0 1048.7,344.7 1051.3,345.4 1053.8,346.1 1056.5,346.8 1059.2,347.6 1062.3,348.5 1066.9,350.0 1071.9,351.7 1077.1,353.6 1082.5,355.5 1088.1,357.4 1093.6,359.2 1099.2,360.9 1104.7,362.2 1110.2,363.3 1115.7,364.2 1121.3,365.0 1126.9,365.6 1132.5,366.2 1138.1,366.6 1143.9,366.9 1149.6,367.2 1155.7,367.4 1161.9,367.4 1168.1,367.4 1174.4,367.2 1180.7,367.0 1187.0,366.6 1193.2,366.3 1199.5,365.9 1205.7,365.5 1212.0,364.9 1218.2,364.3 1224.5,363.7 1230.7,363.0 1236.9,362.3 1243.2,361.6 1249.4,360.9 1255.6,360.2 1261.9,359.5 1268.1,358.9 1274.4,358.2 1280.6,357.4 1286.8,356.7 1293.1,356.0 1299.3,355.2 1305.6,354.4 1312.0,353.6 1318.5,352.7 1325.0,351.9 1331.3,351.0 1337.5,350.2 1343.4,349.3 1349.1,348.5 1353.3,347.9 1357.4,347.2 1361.3,346.6 1365.1,346.0 1368.8,345.4 1372.5,344.8 1376.2,344.1 1380.0,343.4 1383.7,342.7 1387.4,341.9 1391.1,341.2 1394.8,340.4 1398.4,339.6 1402.1,338.7 1405.7,337.9 1409.4,337.1 1413.1,336.2 1416.7,335.3 1420.4,334.4 1424.1,333.5 1427.8,332.6 1431.4,331.7 1435.1,330.9 1438.8,330.2 1442.5,329.6 1446.1,329.0 1449.8,328.5 1453.5,328.0 1457.2,327.5 1460.8,327.1 1464.5,326.7 1468.2,326.3 1472.0,325.9 1476.1,325.6 1480.3,325.3 1484.4,325.0 1488.4,324.7 1492.0,324.4 1495.1,324.1 1497.6,323.8 1498.4,323.7 1499.1,323.6 1499.6,323.4 1500.1,323.3 1500.7,323.2 1501.2,323.1 1501.8,322.9 1502.5,322.8 1504.0,322.5 1505.6,322.2 1507.4,321.9 1509.3,321.6 1511.3,321.3 1513.3,321.0 1515.3,320.7 1517.3,320.4 1519.5,320.1 1521.8,319.9 1524.1,319.7 1526.5,319.4 1528.9,319.2 1531.3,319.0 1533.6,318.8 1536.0,318.6" fill="none" stroke="#46b516" stroke-width="1.0" stroke-linejoin="round"/>
<polyline points="2.5,91.0 5.9,91.5 9.3,92.0 12.8,92.5 16.2,93.1 19.6,93.6 23.0,94.1 26.5,94.6 30.0,95.0 33.7,95.4 37.5,95.9 41.3,96.3 45.1,96.7 48.9,97.0 52.7,97.4 56.4,97.7 60.0,98.0 63.1,98.3 66.1,98.6 69.0,98.9 72.0,99.2 74.9,99.4 77.8,99.5 80.7,99.5 83.7,99.4 86.9,99.1 90.2,98.6 93.5,97.9 96.8,97.2 100.2,96.4 103.5,95.6 106.9,94.8 110.2,94.1 113.7,93.4 117.2,92.7 120.7,91.9 124.3,91.2 127.8,90.5 131.2,89.7 134.6,89.0 137.8,88.2 140.4,87.5 143.0,86.8 145.4,86.1 147.9,85.4 150.3,84.7 152.7,84.0 155.1,83.4 157.5,82.7 160.0,82.1 162.5,81.5 165.1,80.9 167.7,80.3 170.2,79.7 172.7,79.1 175.0,78.5 177.2,77.8 178.8,77.2 180.3,76.6 181.8,76.0 183.2,75.3 184.6,74.7 186.0,74.0 187.5,73.4 189.0,72.8 190.9,72.2 192.8,71.5 194.8,70.9 196.8,70.3 198.8,69.7 200.8,69.1 202.8,68.5 204.7,67.9 206.5,67.3 208.2,66.6 209.9,65.9 211.5,65.2 213.2,64.5 214.9,63.9 216.7,63.4 218.5,63.0 220.6,62.7 222.6,62.5 224.7,62.4 226.9,62.4 229.1,62.5 231.4,62.5 233.8,62.6 236.2,62.6 239.5,62.6 243.0,62.5 246.7,62.5 250.5,62.5 254.3,62.6 258.2,62.6 262.0,62.8 265.7,63.0 269.4,63.3 273.2,63.7 276.9,64.2 280.7,64.8 284.4,65.3 288.1,65.9 291.7,66.4 295.3,66.9 298.5,67.3 301.5,67.6 304.5,67.9 307.4,68.2 310.4,68.5 313.4,68.9 316.6,69.3 320.0,69.9 324.8,70.8 329.8,72.0 335.2,73.3 340.6,74.7 346.1,76.1 351.5,77.5 356.7,78.7 361.6,79.8 365.4,80.5 369.0,81.2 372.5,81.7 376.0,82.2 379.4,82.8 382.9,83.4 386.4,84.1 390.0,84.9 394.2,86.0 398.5,87.1 402.8,88.3 407.2,89.7 411.6,91.1 416.0,92.7 420.5,94.4 424.9,96.2 429.9,98.4 434.9,100.9 439.9,103.5 444.9,106.2 450.0,109.1 455.0,112.1 459.9,115.3 464.8,118.6 469.9,122.3 474.9,126.2 479.9,130.3 484.8,134.6 489.7,139.0 494.7,143.4 499.6,147.9 504.7,152.3 510.2,157.1 515.9,162.1 521.6,167.2 527.4,172.3 533.1,177.4 538.7,182.5 544.2,187.4 549.6,192.2 554.2,196.3 558.7,200.3 563.1,204.2 567.5,208.1 571.8,212.0 576.1,215.8 580.3,219.6 584.5,223.3 588.4,226.7 592.3,230.2 596.2,233.6 600.0,236.9 603.8,240.2 607.5,243.5 611.0,246.8 614.4,250.0 617.1,252.7 619.6,255.3 622.0,257.9 624.4,260.5 626.8,263.0 629.2,265.6 631.8,268.3 634.6,271.1 638.5,274.8 642.7,278.7 647.2,282.7 651.7,286.8 656.4,290.8 660.9,294.8 665.3,298.7 669.5,302.3 672.8,305.1 675.9,307.7 678.8,310.2 681.8,312.6 684.8,315.1 687.8,317.7 691.1,320.5 694.5,323.5 699.8,328.4 705.7,334.0 711.9,339.9 718.3,346.1 724.6,352.3 730.8,358.2 736.6,363.6 741.8,368.4 744.9,371.2 747.8,373.9 750.5,376.4 753.1,378.7 755.7,381.0 758.4,383.1 761.3,385.2 764.5,387.2 768.6,389.4 773.0,391.6 777.7,393.7 782.5,395.7 787.3,397.5 792.0,399.1 796.4,400.4 800.5,401.5 803.2,402.1 805.7,402.5 808.2,402.7 810.5,402.9 812.9,403.0 815.2,403.1 817.6,403.3 820.0,403.5 822.5,403.8 825.1,404.2 827.7,404.6 830.3,405.0 832.9,405.3 835.4,405.6 838.0,405.8 840.5,405.8 842.9,405.7 845.2,405.4 847.5,405.1 849.8,404.6 852.1,404.2 854.4,403.7 856.9,403.2 859.4,402.7 862.7,402.1 866.1,401.4 869.6,400.7 873.2,399.9 876.9,399.2 880.5,398.5 884.1,397.9 887.7,397.5 891.1,397.2 894.6,397.1 898.1,397.0 901.6,397.0 905.0,397.0 908.3,396.9 911.5,396.9 914.5,396.7 916.7,396.5 918.8,396.3 920.9,396.1 922.9,395.9 924.8,395.6 926.6,395.3 928.4,395.1 930.2,394.8 931.5,394.6 932.8,394.3 934.0,394.1 935.2,393.9 936.4,393.6 937.6,393.4 938.8,393.1 940.0,392.8 941.3,392.5 942.5,392.2 943.8,391.9 945.1,391.6 946.4,391.3 947.7,390.9 949.1,390.5 950.6,390.1 952.9,389.4 955.3,388.7 957.8,387.9 960.4,387.0 963.1,386.1 966.0,385.1 968.9,384.1 971.9,383.0 976.3,381.4 981.0,379.5 986.0,377.5 991.1,375.5 996.3,373.4 1001.4,371.3 1006.3,369.4 1010.9,367.6 1014.5,366.3 1017.9,365.0 1021.3,363.7 1024.6,362.6 1027.8,361.4 1031.0,360.2 1034.3,359.0 1037.5,357.8 1040.7,356.6 1043.8,355.3 1047.0,354.0 1050.2,352.7 1053.3,351.4 1056.3,350.2 1059.4,349.1 1062.3,348.1 1064.7,347.4 1067.1,346.7 1069.4,346.1 1071.6,345.6 1073.9,345.1 1076.2,344.6 1078.6,344.1 1081.0,343.5 1083.9,342.8 1087.0,342.1 1090.1,341.4 1093.3,340.7 1096.4,340.0 1099.5,339.4 1102.4,338.8 1105.1,338.3 1107.0,338.0 1108.7,337.8 1110.4,337.7 1112.0,337.5 1113.7,337.4 1115.3,337.2 1117.0,337.0 1118.8,336.7 1121.1,336.2 1123.6,335.5 1126.1,334.7 1128.7,333.8 1131.2,333.0 1133.8,332.3 1136.3,331.6 1138.7,331.2 1140.7,331.0 1142.7,330.9 1144.6,330.9 1146.5,331.0 1148.4,331.1 1150.3,331.1 1152.4,331.1 1154.5,331.0 1157.4,330.7 1160.3,330.2 1163.3,329.6 1166.4,329.0 1169.6,328.3 1173.0,327.7 1176.4,327.3 1180.0,327.0 1184.9,326.9 1190.2,327.1 1195.6,327.6 1201.3,328.1 1207.0,328.6 1212.8,329.1 1218.6,329.3 1224.4,329.3 1230.5,328.9 1236.7,328.3 1242.9,327.4 1249.2,326.4 1255.5,325.4 1261.8,324.6 1268.0,323.9 1274.3,323.5 1280.6,323.4 1286.9,323.5 1293.3,323.8 1299.6,324.2 1305.9,324.7 1312.1,325.2 1318.2,325.6 1324.2,326.0 1329.4,326.3 1334.6,326.6 1339.8,326.9 1344.8,327.2 1349.8,327.5 1354.6,327.7 1359.2,327.9 1363.6,328.0 1366.9,328.0 1370.1,327.9 1373.2,327.8 1376.2,327.6 1379.2,327.4 1382.0,327.3 1384.6,327.3 1387.2,327.4 1389.0,327.6 1390.6,327.9 1392.1,328.2 1393.6,328.5 1395.1,328.9 1396.6,329.1 1398.1,329.3 1399.8,329.3 1402.0,329.1 1404.1,328.6 1406.4,328.0 1408.7,327.4 1411.1,326.6 1413.5,325.9 1416.1,325.2 1418.7,324.6 1422.2,324.0 1426.0,323.4 1429.9,322.8 1433.9,322.3 1438.0,321.8 1442.1,321.4 1446.2,321.0 1450.2,320.6 1454.2,320.3 1458.2,320.1 1462.3,319.9 1466.4,319.8 1470.4,319.7 1474.3,319.5 1478.1,319.3 1481.7,319.1 1484.4,318.9 1487.0,318.6 1489.5,318.4 1491.9,318.2 1494.4,317.9 1496.8,317.5 1499.4,317.2 1502.2,316.7 1506.0,316.0 1510.1,315.2 1514.3,314.2 1518.6,313.2 1523.0,312.2 1527.4,311.1 1531.7,310.1 1536.0,309.1" fill="none" stroke="#b3a11e" stroke-width="1.0" stroke-linejoin="round"/>
<polyline points="2.5,86.0 3.4,85.4 4.3,84.7 5.2,84.1 6.1,83.5 7.0,82.8 7.9,82.2 8.9,81.6 10.0,81.0 11.6,80.2 13.2,79.3 15.0,78.4 16.9,77.5 18.8,76.7 20.8,76.0 22.9,75.4 25.0,75.0 27.8,74.9 30.7,75.2 33.8,75.7 37.0,76.4 40.3,77.1 43.6,77.6 46.8,77.8 50.0,77.5 53.5,76.5 57.1,75.0 60.6,73.0 64.1,70.9 67.7,68.7 71.3,66.7 75.0,65.1 78.7,64.0 82.5,63.5 86.4,63.4 90.4,63.7 94.4,64.1 98.4,64.7 102.4,65.2 106.3,65.7 110.2,65.9 113.8,66.0 117.3,66.1 120.8,66.2 124.3,66.2 127.7,66.2 131.1,66.2 134.5,66.1 137.8,65.9 140.8,65.7 143.8,65.5 146.8,65.2 149.8,64.9 152.7,64.6 155.6,64.1 158.5,63.6 161.4,63.0 164.4,62.2 167.3,61.2 170.3,60.2 173.3,59.0 176.2,57.9 179.1,56.8 182.1,55.9 185.0,55.1 187.8,54.6 190.6,54.2 193.4,53.9 196.2,53.7 198.9,53.5 201.6,53.3 204.2,53.1 206.7,52.8 208.6,52.6 210.4,52.3 212.2,52.1 213.9,51.8 215.5,51.6 217.2,51.3 218.8,51.1 220.5,50.8 222.0,50.5 223.5,50.3 225.0,50.0 226.4,49.7 227.8,49.5 229.3,49.2 230.8,49.0 232.3,48.8 234.0,48.6 235.6,48.5 237.3,48.4 239.0,48.3 240.7,48.2 242.5,48.2 244.2,48.2 246.0,48.2 247.9,48.2 249.9,48.2 251.9,48.2 253.9,48.2 256.0,48.3 258.0,48.5 259.9,48.8 261.8,49.2 263.6,49.8 265.3,50.4 267.0,51.2 268.7,52.0 270.4,52.9 272.1,53.9 273.8,55.0 275.6,56.1 277.9,57.6 280.3,59.4 282.7,61.2 285.1,63.2 287.6,65.2 290.1,67.2 292.7,69.1 295.3,70.9 298.3,72.7 301.4,74.5 304.7,76.2 308.0,77.9 311.2,79.6 314.3,81.2 317.3,82.9 320.0,84.6 321.9,85.9 323.6,87.1 325.2,88.4 326.7,89.6 328.2,90.9 329.7,92.2 331.4,93.5 333.1,95.0 335.5,97.1 338.1,99.4 340.7,101.8 343.3,104.3 346.1,106.8 348.9,109.2 351.8,111.5 354.8,113.7 358.0,115.8 361.4,117.8 365.0,119.8 368.6,121.7 372.1,123.5 375.7,125.2 379.1,126.9 382.4,128.5 385.0,129.8 387.5,131.1 390.0,132.4 392.5,133.6 394.9,134.7 397.3,135.8 399.6,136.6 402.0,137.3 404.1,137.7 406.1,137.8 408.2,137.9 410.3,137.8 412.3,137.8 414.2,137.8 416.1,137.9 417.8,138.3 419.1,138.7 420.3,139.2 421.4,139.8 422.4,140.4 423.5,141.0 424.5,141.7 425.6,142.4 426.7,143.2 428.0,144.1 429.3,145.0 430.5,146.0 431.8,147.0 433.1,148.1 434.5,149.3 436.0,150.6 437.5,152.1 440.7,155.3 444.4,159.1 448.4,163.5 452.5,168.1 456.6,172.9 460.5,177.5 464.0,181.8 467.0,185.6 468.6,187.8 469.9,189.7 471.1,191.6 472.1,193.5 473.2,195.3 474.3,197.2 475.5,199.2 476.9,201.3 479.1,204.5 481.4,207.9 484.0,211.5 486.6,215.2 489.3,219.0 492.0,222.7 494.8,226.4 497.5,230.0 500.2,233.4 503.0,236.8 505.8,240.0 508.7,243.3 511.5,246.6 514.3,250.0 517.1,253.6 519.9,257.4 523.1,262.3 526.3,267.5 529.5,273.0 532.6,278.7 535.8,284.3 538.8,289.8 541.8,295.0 544.8,299.8 547.0,303.4 549.1,306.9 551.2,310.4 553.2,313.7 555.2,316.8 557.4,319.8 559.7,322.4 562.3,324.8 564.8,326.6 567.6,328.0 570.4,329.1 573.4,330.1 576.3,331.1 579.3,332.1 582.1,333.3 584.7,334.7 587.1,336.3 589.3,338.1 591.5,339.9 593.6,341.8 595.6,343.8 597.7,345.8 599.9,347.8 602.2,349.7 604.9,351.8 607.7,354.0 610.5,356.2 613.4,358.4 616.3,360.6 619.2,362.8 621.9,365.0 624.6,367.2 626.9,369.2 629.0,371.2 631.0,373.2 633.1,375.2 635.1,377.2 637.3,379.2 639.6,381.3 642.1,383.4 646.0,386.5 650.4,389.9 655.1,393.5 659.9,397.0 664.8,400.5 669.4,403.6 673.7,406.3 677.4,408.5 679.2,409.4 680.8,410.0 682.3,410.6 683.8,411.0 685.2,411.4 686.7,411.9 688.2,412.6 689.9,413.4 692.7,415.1 695.6,417.2 698.7,419.6 701.8,422.2 705.1,424.8 708.3,427.4 711.6,429.9 714.8,432.1 717.9,434.1 721.0,436.1 724.2,438.0 727.4,439.9 730.6,441.7 733.8,443.3 736.8,444.7 739.8,445.9 742.1,446.7 744.3,447.4 746.5,447.9 748.7,448.4 750.9,448.8 753.0,449.0 755.1,449.1 757.2,449.1 759.1,448.9 761.1,448.5 763.0,448.0 764.9,447.4 766.7,446.8 768.6,446.2 770.4,445.6 772.2,445.1 773.8,444.7 775.3,444.4 776.8,444.2 778.3,443.9 779.9,443.6 781.4,443.3 783.0,443.0 784.6,442.6 786.7,442.1 788.8,441.5 791.0,440.9 793.2,440.3 795.5,439.6 797.7,438.9 799.9,438.0 802.1,437.1 804.4,435.9 806.6,434.6 808.8,433.2 811.0,431.7 813.2,430.2 815.4,428.6 817.7,427.2 820.0,425.8 822.5,424.5 825.1,423.4 827.7,422.3 830.4,421.2 833.0,420.1 835.6,418.8 838.1,417.4 840.5,415.7 843.1,413.4 845.5,410.8 847.9,408.0 850.2,405.0 852.5,401.9 854.7,398.8 857.0,395.8 859.4,392.8 862.0,389.8 864.6,386.6 867.3,383.4 870.0,380.2 872.7,377.1 875.2,374.2 877.6,371.4 879.8,368.8 881.1,367.2 882.4,365.7 883.5,364.3 884.6,363.0 885.7,361.7 886.9,360.4 888.0,359.1 889.3,357.8 890.7,356.4 892.2,354.9 893.8,353.4 895.4,352.0 897.0,350.6 898.6,349.2 900.3,348.0 901.9,346.8 903.4,345.8 905.1,345.0 906.7,344.2 908.3,343.4 910.0,342.7 911.5,342.0 913.1,341.2 914.5,340.5 915.6,339.9 916.5,339.3 917.5,338.7 918.4,338.2 919.3,337.6 920.2,337.0 921.3,336.4 922.4,335.7 924.2,334.6 926.3,333.5 928.4,332.2 930.7,331.0 933.0,329.7 935.3,328.5 937.7,327.3 940.0,326.3 942.3,325.3 944.7,324.4 947.1,323.5 949.5,322.7 952.0,321.9 954.4,321.2 956.8,320.5 959.2,319.9 961.4,319.4 963.6,318.8 965.7,318.4 967.9,317.9 970.0,317.6 972.2,317.3 974.4,317.0 976.6,316.9 979.0,316.9 981.4,316.9 983.8,317.1 986.3,317.4 988.8,317.7 991.3,318.0 993.9,318.3 996.6,318.7 999.9,319.2 1003.4,319.9 1006.9,320.7 1010.6,321.5 1014.2,322.3 1017.8,322.9 1021.4,323.3 1024.9,323.5 1028.2,323.4 1031.5,323.0 1034.9,322.4 1038.2,321.8 1041.4,321.1 1044.5,320.4 1047.3,319.8 1049.9,319.3 1051.4,319.0 1052.7,318.7 1054.0,318.4 1055.2,318.1 1056.4,317.8 1057.5,317.7 1058.7,317.7 1059.9,317.8 1061.2,318.2 1062.5,318.7 1063.8,319.4 1065.1,320.2 1066.4,321.1 1067.7,321.9 1069.1,322.8 1070.5,323.6 1072.3,324.5 1074.2,325.5 1076.2,326.5 1078.2,327.4 1080.3,328.4 1082.3,329.3 1084.3,330.2 1086.2,331.0 1087.9,331.7 1089.5,332.4 1091.2,333.1 1092.8,333.7 1094.4,334.3 1096.0,334.8 1097.4,335.2 1098.8,335.4 1099.7,335.4 1100.5,335.3 1101.3,335.2 1102.0,335.0 1102.8,334.8 1103.5,334.6 1104.3,334.6 1105.1,334.6 1106.1,334.8 1107.1,335.1 1108.1,335.6 1109.2,336.1 1110.2,336.6 1111.3,337.1 1112.4,337.5 1113.5,337.8 1114.6,338.0 1115.8,338.2 1116.9,338.3 1118.0,338.4 1119.2,338.4 1120.4,338.4 1121.7,338.5 1123.0,338.5 1124.9,338.5 1127.0,338.4 1129.3,338.3 1131.6,338.1 1133.8,338.0 1136.0,338.0 1138.0,338.0 1139.8,338.3 1140.9,338.6 1141.8,339.0 1142.7,339.4 1143.5,339.9 1144.3,340.4 1145.2,340.9 1146.1,341.3 1147.1,341.7 1148.6,342.2 1150.2,342.6 1152.0,343.0 1153.8,343.4 1155.6,343.7 1157.4,344.0 1159.1,344.3 1160.8,344.6 1162.2,344.8 1163.5,345.0 1164.9,345.1 1166.2,345.3 1167.5,345.4 1168.8,345.5 1170.0,345.6 1171.3,345.6 1172.4,345.6 1173.5,345.5 1174.5,345.4 1175.5,345.3 1176.6,345.2 1177.7,345.2 1178.8,345.1 1180.0,345.1 1181.8,345.2 1183.6,345.5 1185.6,345.9 1187.6,346.3 1189.7,346.6 1191.8,346.9 1193.8,346.9 1195.7,346.7 1197.6,346.2 1199.5,345.5 1201.3,344.6 1203.2,343.6 1205.0,342.5 1206.8,341.4 1208.6,340.3 1210.4,339.3 1212.1,338.3 1213.9,337.4 1215.6,336.4 1217.3,335.4 1219.0,334.4 1220.7,333.4 1222.4,332.5 1224.1,331.5 1225.7,330.6 1227.3,329.8 1228.9,329.0 1230.5,328.2 1232.1,327.4 1233.6,326.5 1235.2,325.6 1236.7,324.6 1238.3,323.4 1239.9,322.1 1241.4,320.7 1242.9,319.2 1244.4,317.8 1246.0,316.4 1247.6,315.2 1249.3,314.1 1251.0,313.2 1252.8,312.4 1254.6,311.7 1256.5,311.0 1258.4,310.5 1260.3,309.9 1262.2,309.5 1264.0,309.1 1265.7,308.8 1267.5,308.7 1269.4,308.6 1271.2,308.6 1272.9,308.6 1274.6,308.5 1276.2,308.4 1277.6,308.1 1278.5,307.8 1279.4,307.4 1280.2,306.9 1280.9,306.4 1281.6,305.9 1282.4,305.5 1283.1,305.1 1283.9,304.9 1284.7,304.8 1285.4,304.7 1286.2,304.8 1286.9,304.8 1287.7,304.9 1288.5,305.0 1289.3,305.1 1290.2,305.2 1291.3,305.3 1292.4,305.4 1293.5,305.5 1294.7,305.6 1295.9,305.7 1297.2,305.9 1298.6,306.1 1300.0,306.3 1302.6,306.8 1305.4,307.5 1308.5,308.2 1311.8,309.1 1315.0,309.9 1318.3,310.8 1321.3,311.6 1324.2,312.3 1326.3,312.8 1328.4,313.2 1330.3,313.7 1332.2,314.1 1334.1,314.5 1336.0,314.9 1338.0,315.4 1340.0,315.9 1342.3,316.6 1344.7,317.3 1347.1,318.1 1349.6,319.0 1352.0,319.7 1354.4,320.4 1356.7,321.0 1358.9,321.4 1360.6,321.6 1362.3,321.6 1363.9,321.5 1365.5,321.4 1367.1,321.3 1368.6,321.2 1370.1,321.1 1371.5,321.1 1372.7,321.1 1373.8,321.2 1374.9,321.2 1376.0,321.2 1377.0,321.3 1378.0,321.4 1379.0,321.5 1380.0,321.6 1380.8,321.7 1381.5,321.8 1382.2,321.9 1382.9,322.0 1383.6,322.1 1384.3,322.3 1385.1,322.5 1385.9,322.8 1387.4,323.4 1389.0,324.3 1390.8,325.3 1392.6,326.4 1394.5,327.5 1396.3,328.6 1398.0,329.5 1399.6,330.2 1400.7,330.6 1401.6,330.9 1402.6,331.2 1403.5,331.5 1404.4,331.7 1405.4,331.9 1406.4,332.0 1407.5,332.2 1409.0,332.4 1410.7,332.5 1412.4,332.6 1414.1,332.7 1415.9,332.7 1417.7,332.7 1419.5,332.6 1421.2,332.4 1422.9,332.1 1424.7,331.6 1426.4,331.1 1428.1,330.5 1429.8,329.9 1431.5,329.4 1433.2,329.0 1434.9,328.7 1436.4,328.6 1437.9,328.6 1439.4,328.7 1440.9,328.9 1442.4,329.0 1443.8,329.2 1445.3,329.2 1446.7,329.2 1448.0,329.1 1449.2,328.9 1450.4,328.8 1451.6,328.5 1452.8,328.3 1454.0,328.0 1455.3,327.7 1456.5,327.3 1457.9,326.8 1459.3,326.3 1460.8,325.6 1462.2,325.0 1463.7,324.3 1465.1,323.6 1466.7,323.0 1468.2,322.4 1469.9,321.8 1471.7,321.2 1473.5,320.6 1475.3,320.0 1477.1,319.5 1479.0,318.9 1480.9,318.4 1482.9,317.9 1485.3,317.4 1487.8,316.9 1490.3,316.5 1493.0,316.2 1495.5,315.8 1498.0,315.3 1500.4,314.9 1502.5,314.3 1503.9,313.8 1505.2,313.3 1506.5,312.8 1507.7,312.2 1508.8,311.6 1510.0,311.1 1511.2,310.6 1512.4,310.1 1513.6,309.7 1514.9,309.4 1516.2,309.1 1517.5,308.8 1518.7,308.5 1519.9,308.1 1521.1,307.7 1522.2,307.2 1523.2,306.6 1524.1,305.9 1524.9,305.2 1525.7,304.4 1526.5,303.6 1527.3,302.8 1528.2,302.0 1529.0,301.3 1529.9,300.6 1530.7,300.0 1531.6,299.3 1532.5,298.7 1533.4,298.0 1534.2,297.4 1535.1,296.7 1536.0,296.1" fill="none" stroke="#f06a1c" stroke-width="1.0" stroke-linejoin="round"/>
<rect x="3" y="129" width="1573" height="1" fill="#000"/>
<rect x="3" y="224" width="1573" height="1" fill="#2c4a72"/>
<rect x="152" y="13" width="1424" height="1" fill="#000"/>
<rect x="152" y="191" width="1424" height="1" fill="#000"/>
<rect x="152" y="246" width="1424" height="1" fill="#000"/>
<rect x="152" y="301" width="1424" height="1" fill="#000"/>
<rect x="152" y="368" width="1424" height="1" fill="#000"/>
<rect x="152" y="478" width="1424" height="1" fill="#000"/>
</g>
<rect x="7" y="6" width="66" height="22" fill="rgba(0,0,0,0.64)"/>
<rect x="7" y="6" width="3" height="22" fill="#2f8070"/>
<text x="16" y="21" font-size="11" fill="#fff" stroke="#fff" stroke-width="0.3">EUR/USD</text>
<rect x="7" y="33" width="71" height="22" fill="rgba(0,0,0,0.64)"/>
<rect x="7" y="33" width="3" height="22" fill="#f0620f"/>
<text x="16" y="48" font-size="11" fill="#fff" stroke="#fff" stroke-width="0.3">SMA (20,0)</text>
<rect x="7" y="60" width="71" height="22" fill="rgba(0,0,0,0.64)"/>
<rect x="7" y="60" width="3" height="22" fill="#a89000"/>
<text x="16" y="75" font-size="11" fill="#fff" stroke="#fff" stroke-width="0.3">SMA (50,0)</text>
<rect x="7" y="87" width="77" height="22" fill="rgba(0,0,0,0.64)"/>
<rect x="7" y="87" width="3" height="22" fill="#44b400"/>
<text x="16" y="102" font-size="11" fill="#fff" stroke="#fff" stroke-width="0.3">SMA (100,0)</text>
<rect x="7" y="114" width="77" height="22" fill="rgba(0,0,0,0.64)"/>
<rect x="7" y="114" width="3" height="22" fill="#66bbff"/>
<text x="16" y="129" font-size="11" fill="#fff" stroke="#fff" stroke-width="0.3">SMA (200,0)</text>
<polygon points="1573,224.6 1580,218 1628,218 1628,232 1580,232" fill="#2d4a75"/>
<text x="1584.3" y="228.8" font-size="11" font-weight="bold" fill="#fff">1.03277</text>
<line x1="779" y1="518.5" x2="799" y2="518.5" stroke="#555" stroke-width="1"/>
<line x1="779" y1="520.5" x2="799" y2="520.5" stroke="#555" stroke-width="1"/>
<line x1="779" y1="522.5" x2="799" y2="522.5" stroke="#555" stroke-width="1"/>
<rect x="2.5" y="524.5" width="1574" height="203" fill="#f7f7f7" stroke="#cdd4e6" stroke-width="1"/>
<g clip-path="url(#rc)">
<rect x="2" y="526" width="1535" height="61" fill="#003c00"/>
<rect x="3" y="526" width="1533" height="60" fill="#7cfb7c"/>
<rect x="3" y="587" width="1573" height="1" fill="#fff"/>
<rect x="3" y="665" width="1573" height="1" fill="#fff"/>
<rect x="2" y="666" width="1535" height="61" fill="#3c0000"/>
<rect x="3" y="667" width="1533" height="60" fill="#fb7b7b"/>
<line x1="3" y1="566.5" x2="1576" y2="566.5" stroke="rgba(0,0,0,0.09)" stroke-width="1"/>
<line x1="3" y1="606.5" x2="1576" y2="606.5" stroke="rgba(0,0,0,0.09)" stroke-width="1"/>
<line x1="3" y1="646.5" x2="1576" y2="646.5" stroke="rgba(0,0,0,0.09)" stroke-width="1"/>
<line x1="3" y1="686.5" x2="1576" y2="686.5" stroke="rgba(0,0,0,0.09)" stroke-width="1"/>
<line x1="329.5" y1="525" x2="329.5" y2="727" stroke="rgba(0,0,0,0.07)" stroke-width="1"/>
<line x1="1222.5" y1="525" x2="1222.5" y2="727" stroke="rgba(0,0,0,0.07)" stroke-width="1"/>
<polyline points="2.5,609.0 8.5,611.5 15.5,612.2 22.5,619.3 29.5,619.6 36.5,627.9 42.5,630.6 49.5,627.4 56.5,602.9 63.5,608.5 70.5,609.8 77.5,608.3 83.5,633.0 90.5,634.3 97.5,635.5 104.5,625.0 111.5,627.6 117.5,622.5 124.5,626.2 131.5,629.6 138.5,620.0 145.5,611.5 152.5,613.4 158.5,609.0 165.5,614.4 172.5,602.9 179.5,613.2 186.5,602.2 192.5,611.5 199.5,612.0 206.5,611.5 213.5,610.2 220.5,618.3 227.5,634.8 233.5,638.4 240.5,639.9 247.5,635.5 254.5,641.4 261.5,638.4 267.5,655.6 274.5,665.9 281.5,662.9 288.5,659.3 295.5,661.5 302.5,674.5 308.5,638.4 315.5,634.3 322.5,634.8 329.5,642.8 336.5,645.3 342.5,648.2 349.5,656.3 356.5,646.3 363.5,645.3 370.5,644.1 377.5,646.3 383.5,644.1 390.5,632.8 397.5,642.8 404.5,644.1 411.5,638.9 417.5,637.9 424.5,658.0 431.5,675.7 438.5,683.0 445.5,676.9 452.5,678.4 458.5,674.5 465.5,675.2 472.5,685.7 479.5,688.2 486.5,680.1 492.5,680.1 499.5,670.8 506.5,672.7 513.5,673.2 520.5,678.9 527.5,674.7 533.5,673.2 540.5,675.7 547.5,684.3 554.5,663.4 561.5,649.5 567.5,649.0 574.5,646.3 581.5,651.2 588.5,656.3 595.5,666.1 602.5,670.3 608.5,671.5 615.5,678.9 622.5,678.4 629.5,681.3 636.5,684.5 642.5,665.4 649.5,653.6 656.5,661.2 663.5,662.2 670.5,658.8 677.5,660.0 683.5,642.8 690.5,638.4 697.5,645.3 704.5,652.4 711.5,652.4 717.5,650.7 724.5,658.5 731.5,649.5 738.5,652.6 745.5,647.0 752.5,647.0 758.5,645.3 765.5,631.1 772.5,615.9 779.5,618.8 786.5,618.8 792.5,612.0 799.5,609.0 806.5,594.3 813.5,596.3 820.5,591.1 827.5,600.9 833.5,600.0 840.5,611.5 847.5,579.6 854.5,577.9 861.5,585.2 867.5,593.1 874.5,590.9 881.5,588.4 888.5,597.3 895.5,612.5 902.5,605.8 908.5,620.3 915.5,619.1 922.5,610.5 929.5,615.4 936.5,617.8 942.5,613.9 949.5,610.2 956.5,607.3 963.5,621.3 970.5,639.7 977.5,625.0 983.5,611.0 990.5,615.9 997.5,615.4 1004.5,620.8 1011.5,618.3 1017.5,623.7 1024.5,612.0 1031.5,619.3 1038.5,613.9 1045.5,615.1 1052.5,612.5 1058.5,618.1 1065.5,647.0 1072.5,651.2 1079.5,651.9 1086.5,645.8 1092.5,639.2 1099.5,640.1 1106.5,635.2 1113.5,649.7 1120.5,614.7 1127.5,615.9 1133.5,614.4 1140.5,614.4 1147.5,642.1 1154.5,628.6 1161.5,622.7 1167.5,620.8 1174.5,615.1 1181.5,609.5 1188.5,618.8 1195.5,620.5 1202.5,615.4 1208.5,615.9 1215.5,619.1 1222.5,614.4 1229.5,612.9 1236.5,612.0 1242.5,601.2 1249.5,605.3 1256.5,604.1 1263.5,600.7 1270.5,622.5 1277.5,623.7 1283.5,633.0 1290.5,642.1 1297.5,646.5 1304.5,632.3 1311.5,636.5 1317.5,634.0 1324.5,646.3 1331.5,637.2 1338.5,640.4 1345.5,637.9 1352.5,631.1 1358.5,631.8 1365.5,614.4 1372.5,606.6 1379.5,606.1 1386.5,611.5 1392.5,638.9 1399.5,634.8 1406.5,629.9 1413.5,621.8 1420.5,625.0 1427.5,623.0 1433.5,628.1 1440.5,625.7 1447.5,626.2 1454.5,618.8 1461.5,616.9 1467.5,614.4 1474.5,623.2 1481.5,623.2 1488.5,620.0 1495.5,622.0 1502.5,601.7 1508.5,580.8 1515.5,595.5 1522.5,598.0 1529.5,602.9 1536.5,592.4" fill="none" stroke="#1a3aff" stroke-width="1.0" stroke-linejoin="round"/>
</g>
<rect x="7" y="529" width="97" height="22" fill="rgba(0,0,0,0.62)"/>
<rect x="7" y="529" width="3" height="22" fill="#00ee00"/>
<text x="15.7" y="544" font-size="11" fill="#fff" stroke="#fff" stroke-width="0.3">RSI (14,70,30,1)</text>
<line x1="1577" y1="566.5" x2="1582" y2="566.5" stroke="#9a9a9a" stroke-width="1"/>
<text x="1584" y="569.5" font-size="11" fill="#5f5f5f">80.0000</text>
<line x1="1577" y1="606.5" x2="1582" y2="606.5" stroke="#9a9a9a" stroke-width="1"/>
<text x="1584" y="609.5" font-size="11" fill="#5f5f5f">60.0000</text>
<line x1="1577" y1="646.5" x2="1582" y2="646.5" stroke="#9a9a9a" stroke-width="1"/>
<text x="1584" y="649.5" font-size="11" fill="#5f5f5f">40.0000</text>
<line x1="1577" y1="686.5" x2="1582" y2="686.5" stroke="#9a9a9a" stroke-width="1"/>
<text x="1584" y="689.5" font-size="11" fill="#5f5f5f">20.0000</text>
<line x1="1577" y1="726.5" x2="1582" y2="726.5" stroke="#9a9a9a" stroke-width="1"/>
<text x="1584" y="729.5" font-size="11" fill="#5f5f5f">0.0000</text>
<line x1="2.5" y1="728" x2="2.5" y2="730" stroke="#8a8a8a" stroke-width="1"/>
<text x="2" y="744" font-size="11" fill="#5f5f5f">Jun</text>
<line x1="36.5" y1="728" x2="36.5" y2="730" stroke="#8a8a8a" stroke-width="1"/>
<text x="36" y="744" font-size="11" fill="#5f5f5f" text-anchor="middle">22</text>
<line x1="76.5" y1="728" x2="76.5" y2="730" stroke="#8a8a8a" stroke-width="1"/>
<text x="76.7" y="744" font-size="11" fill="#5f5f5f" text-anchor="middle">23</text>
<line x1="117.5" y1="728" x2="117.5" y2="730" stroke="#8a8a8a" stroke-width="1"/>
<text x="117.7" y="744" font-size="11" fill="#5f5f5f" text-anchor="middle">24</text>
<line x1="158.5" y1="728" x2="158.5" y2="730" stroke="#8a8a8a" stroke-width="1"/>
<text x="158.7" y="744" font-size="11" fill="#5f5f5f" text-anchor="middle">26</text>
<line x1="206.5" y1="728" x2="206.5" y2="730" stroke="#8a8a8a" stroke-width="1"/>
<text x="206.3" y="744" font-size="11" fill="#5f5f5f" text-anchor="middle">28</text>
<line x1="247.5" y1="728" x2="247.5" y2="730" stroke="#8a8a8a" stroke-width="1"/>
<text x="247.3" y="744" font-size="11" fill="#5f5f5f" text-anchor="middle">29</text>
<line x1="288.5" y1="728" x2="288.5" y2="730" stroke="#8a8a8a" stroke-width="1"/>
<text x="288.3" y="744" font-size="11" fill="#5f5f5f" text-anchor="middle">30</text>
<line x1="329.5" y1="728" x2="329.5" y2="730" stroke="#8a8a8a" stroke-width="1"/>
<text x="329.3" y="744" font-size="11" fill="#5f5f5f" text-anchor="middle">Jul</text>
<line x1="370.5" y1="728" x2="370.5" y2="730" stroke="#8a8a8a" stroke-width="1"/>
<text x="370" y="744" font-size="11" fill="#5f5f5f" text-anchor="middle">3</text>
<line x1="417.5" y1="728" x2="417.5" y2="730" stroke="#8a8a8a" stroke-width="1"/>
<text x="417.7" y="744" font-size="11" fill="#5f5f5f" text-anchor="middle">5</text>
<line x1="458.5" y1="728" x2="458.5" y2="730" stroke="#8a8a8a" stroke-width="1"/>
<text x="458.7" y="744" font-size="11" fill="#5f5f5f" text-anchor="middle">6</text>
<line x1="499.5" y1="728" x2="499.5" y2="730" stroke="#8a8a8a" stroke-width="1"/>
<text x="499.7" y="744" font-size="11" fill="#5f5f5f" text-anchor="middle">7</text>
<line x1="540.5" y1="728" x2="540.5" y2="730" stroke="#8a8a8a" stroke-width="1"/>
<text x="540.3" y="744" font-size="11" fill="#5f5f5f" text-anchor="middle">8</text>
<line x1="581.5" y1="728" x2="581.5" y2="730" stroke="#8a8a8a" stroke-width="1"/>
<text x="581.3" y="744" font-size="11" fill="#5f5f5f" text-anchor="middle">10</text>
<line x1="629.5" y1="728" x2="629.5" y2="730" stroke="#8a8a8a" stroke-width="1"/>
<text x="629" y="744" font-size="11" fill="#5f5f5f" text-anchor="middle">12</text>
<line x1="670.5" y1="728" x2="670.5" y2="730" stroke="#8a8a8a" stroke-width="1"/>
<text x="670" y="744" font-size="11" fill="#5f5f5f" text-anchor="middle">13</text>
<line x1="711.5" y1="728" x2="711.5" y2="730" stroke="#8a8a8a" stroke-width="1"/>
<text x="711" y="744" font-size="11" fill="#5f5f5f" text-anchor="middle">14</text>
<line x1="752.5" y1="728" x2="752.5" y2="730" stroke="#8a8a8a" stroke-width="1"/>
<text x="752" y="744" font-size="11" fill="#5f5f5f" text-anchor="middle">15</text>
<line x1="792.5" y1="728" x2="792.5" y2="730" stroke="#8a8a8a" stroke-width="1"/>
<text x="792.7" y="744" font-size="11" fill="#5f5f5f" text-anchor="middle">17</text>
<line x1="840.5" y1="728" x2="840.5" y2="730" stroke="#8a8a8a" stroke-width="1"/>
<text x="840.3" y="744" font-size="11" fill="#5f5f5f" text-anchor="middle">19</text>
<line x1="881.5" y1="728" x2="881.5" y2="730" stroke="#8a8a8a" stroke-width="1"/>
<text x="881.3" y="744" font-size="11" fill="#5f5f5f" text-anchor="middle">20</text>
<line x1="922.5" y1="728" x2="922.5" y2="730" stroke="#8a8a8a" stroke-width="1"/>
<text x="922.3" y="744" font-size="11" fill="#5f5f5f" text-anchor="middle">21</text>
<line x1="963.5" y1="728" x2="963.5" y2="730" stroke="#8a8a8a" stroke-width="1"/>
<text x="963.3" y="744" font-size="11" fill="#5f5f5f" text-anchor="middle">22</text>
<line x1="1004.5" y1="728" x2="1004.5" y2="730" stroke="#8a8a8a" stroke-width="1"/>
<text x="1004.3" y="744" font-size="11" fill="#5f5f5f" text-anchor="middle">24</text>
<line x1="1052.5" y1="728" x2="1052.5" y2="730" stroke="#8a8a8a" stroke-width="1"/>
<text x="1052" y="744" font-size="11" fill="#5f5f5f" text-anchor="middle">26</text>
<line x1="1092.5" y1="728" x2="1092.5" y2="730" stroke="#8a8a8a" stroke-width="1"/>
<text x="1092.9" y="744" font-size="11" fill="#5f5f5f" text-anchor="middle">27</text>
<line x1="1133.5" y1="728" x2="1133.5" y2="730" stroke="#8a8a8a" stroke-width="1"/>
<text x="1133.8" y="744" font-size="11" fill="#5f5f5f" text-anchor="middle">28</text>
<line x1="1174.5" y1="728" x2="1174.5" y2="730" stroke="#8a8a8a" stroke-width="1"/>
<text x="1174.7" y="744" font-size="11" fill="#5f5f5f" text-anchor="middle">29</text>
<line x1="1222.5" y1="728" x2="1222.5" y2="730" stroke="#8a8a8a" stroke-width="1"/>
<text x="1222.4" y="744" font-size="11" fill="#5f5f5f" text-anchor="middle">Aug</text>
<line x1="1263.5" y1="728" x2="1263.5" y2="730" stroke="#8a8a8a" stroke-width="1"/>
<text x="1263" y="744" font-size="11" fill="#5f5f5f" text-anchor="middle">2</text>
<line x1="1303.5" y1="728" x2="1303.5" y2="730" stroke="#8a8a8a" stroke-width="1"/>
<text x="1303.9" y="744" font-size="11" fill="#5f5f5f" text-anchor="middle">3</text>
<line x1="1344.5" y1="728" x2="1344.5" y2="730" stroke="#8a8a8a" stroke-width="1"/>
<text x="1344.8" y="744" font-size="11" fill="#5f5f5f" text-anchor="middle">4</text>
<line x1="1385.5" y1="728" x2="1385.5" y2="730" stroke="#8a8a8a" stroke-width="1"/>
<text x="1385.7" y="744" font-size="11" fill="#5f5f5f" text-anchor="middle">5</text>
<text x="1399.2" y="744" font-size="11" fill="#5f5f5f" text-anchor="middle">7</text>
<line x1="1447.5" y1="728" x2="1447.5" y2="730" stroke="#8a8a8a" stroke-width="1"/>
<text x="1447" y="744" font-size="11" fill="#5f5f5f" text-anchor="middle">9</text>
<line x1="1487.5" y1="728" x2="1487.5" y2="730" stroke="#8a8a8a" stroke-width="1"/>
<text x="1487.8" y="744" font-size="11" fill="#5f5f5f" text-anchor="middle">10</text>
<line x1="1528.5" y1="728" x2="1528.5" y2="730" stroke="#8a8a8a" stroke-width="1"/>
<text x="1528.8" y="744" font-size="11" fill="#5f5f5f" text-anchor="middle">11</text>
<line x1="1570.5" y1="728" x2="1570.5" y2="730" stroke="#8a8a8a" stroke-width="1"/>
<text x="1570" y="744" font-size="11" fill="#5f5f5f" text-anchor="middle">12</text>
<line x1="0" y1="761.5" x2="1632" y2="761.5" stroke="#e5e5e5" stroke-width="1"/>
</svg></body></html>
